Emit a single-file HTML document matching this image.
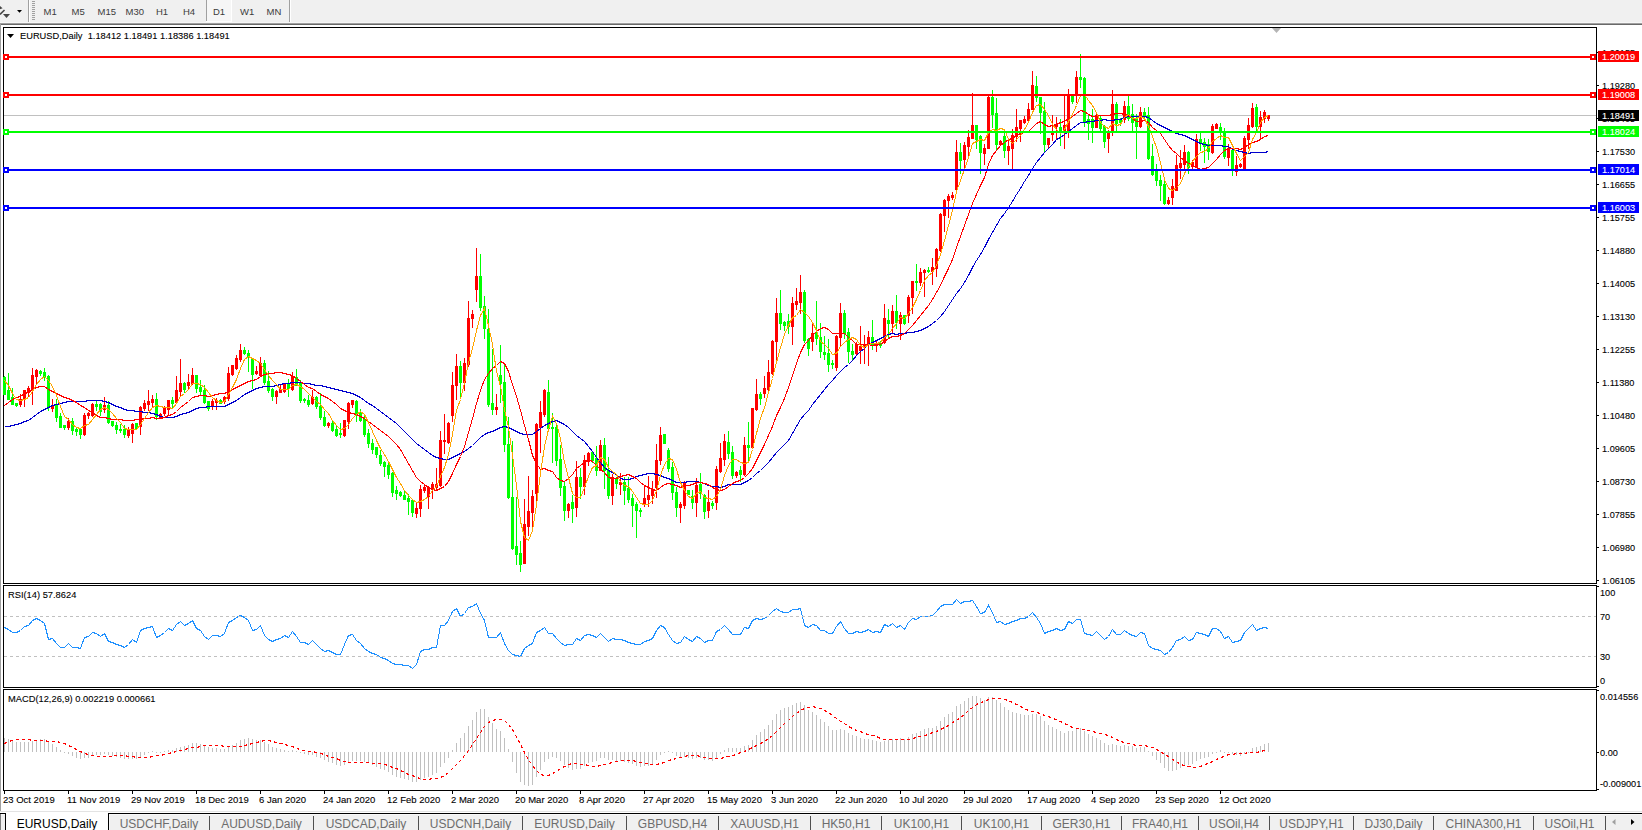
<!DOCTYPE html>
<html><head><meta charset="utf-8">
<style>
html,body{margin:0;padding:0;}
body{width:1642px;height:830px;position:relative;overflow:hidden;background:#fff;font-family:"Liberation Sans",sans-serif;}
svg{position:absolute;left:0;top:0;}
.t{position:absolute;font-size:9.5px;line-height:12px;white-space:nowrap;color:#000;transform-origin:0 0;-webkit-text-stroke:0.1px currentColor;}
.p{transform:scaleX(0.965);}
.w{color:#fff;}
.tt{color:#3c3c3c;-webkit-text-stroke:0;}
.tab{position:absolute;top:816px;height:16px;font-size:12px;line-height:16px;color:#6d6d6d;text-align:center;white-space:nowrap;}
</style></head><body>
<svg width="1642" height="830" viewBox="0 0 1642 830">
<rect x="0" y="0" width="1642" height="22" fill="#f0f0f0"/>
<rect x="0" y="22" width="1642" height="1" fill="#f7f7f7"/>
<rect x="0" y="23" width="1642" height="1" fill="#a0a0a0"/>
<rect x="0" y="24" width="1642" height="1" fill="#696969"/>
<path d="M0,14.5 L4.5,10" stroke="#454545" stroke-width="1.6" fill="none"/>
<path d="M0,6 L2.6,8.3 L0,9.2 Z" fill="#454545"/>
<path d="M3,14 L10,14 L6.5,18 Z" fill="#454545"/>
<path d="M17,10 L22,10 L19.5,12.8 Z" fill="#000"/>
<rect x="28" y="0" width="1" height="22" fill="#a0a0a0"/>
<rect x="29" y="0" width="1" height="22" fill="#fff"/>
<rect x="289" y="0" width="1" height="22" fill="#a0a0a0"/>
<rect x="290" y="0" width="1" height="22" fill="#fff"/>
<rect x="206" y="0" width="26" height="21" fill="#f6f6f6"/>
<rect x="206" y="0" width="1" height="21" fill="#a0a0a0"/>
<rect x="206" y="21" width="26" height="1" fill="#fff"/>
<rect x="231" y="0" width="1" height="22" fill="#fff"/>
<rect x="32" y="1" width="3" height="1" fill="#a0a0a0"/>
<rect x="32" y="3" width="3" height="1" fill="#a0a0a0"/>
<rect x="32" y="5" width="3" height="1" fill="#a0a0a0"/>
<rect x="32" y="7" width="3" height="1" fill="#a0a0a0"/>
<rect x="32" y="9" width="3" height="1" fill="#a0a0a0"/>
<rect x="32" y="11" width="3" height="1" fill="#a0a0a0"/>
<rect x="32" y="13" width="3" height="1" fill="#a0a0a0"/>
<rect x="32" y="15" width="3" height="1" fill="#a0a0a0"/>
<rect x="32" y="17" width="3" height="1" fill="#a0a0a0"/>
<rect x="32" y="19" width="3" height="1" fill="#a0a0a0"/>
<rect x="0" y="24" width="1" height="787" fill="#a0a0a0"/>
<rect x="3.5" y="27.5" width="1593" height="556" fill="none" stroke="#000"/>
<rect x="3.5" y="585.5" width="1593" height="102" fill="none" stroke="#000"/>
<rect x="3.5" y="689.5" width="1593" height="101" fill="none" stroke="#000"/>
<polygon points="1272,28 1281,28 1276.5,33" fill="#b4b4b4"/>
<path d="M7,34 L14,34 L10.5,38 Z" fill="#000"/>
<rect x="4" y="115" width="1592" height="1" fill="#c0c0c0"/>
<g shape-rendering="crispEdges"><rect x="4" y="376" width="1" height="19" fill="#00ff00"/>
<rect x="3" y="377" width="3" height="18" fill="#00ff00"/>
<rect x="8" y="373" width="1" height="27" fill="#00ff00"/>
<rect x="7" y="390" width="3" height="10" fill="#00ff00"/>
<rect x="12" y="388" width="1" height="17" fill="#00ff00"/>
<rect x="11" y="397" width="3" height="8" fill="#00ff00"/>
<rect x="16" y="403" width="1" height="4" fill="#00ff00"/>
<rect x="15" y="403" width="3" height="3" fill="#00ff00"/>
<rect x="20" y="394" width="1" height="13" fill="#ff0000"/>
<rect x="19" y="399" width="3" height="6" fill="#ff0000"/>
<rect x="24" y="390" width="1" height="17" fill="#ff0000"/>
<rect x="23" y="390" width="3" height="10" fill="#ff0000"/>
<rect x="28" y="386" width="1" height="11" fill="#ff0000"/>
<rect x="27" y="388" width="3" height="5" fill="#ff0000"/>
<rect x="32" y="368" width="1" height="37" fill="#ff0000"/>
<rect x="31" y="375" width="3" height="15" fill="#ff0000"/>
<rect x="36" y="369" width="1" height="16" fill="#ff0000"/>
<rect x="35" y="370" width="3" height="7" fill="#ff0000"/>
<rect x="40" y="370" width="1" height="6" fill="#00ff00"/>
<rect x="39" y="371" width="3" height="3" fill="#00ff00"/>
<rect x="44" y="368" width="1" height="13" fill="#00ff00"/>
<rect x="43" y="372" width="3" height="6" fill="#00ff00"/>
<rect x="48" y="375" width="1" height="36" fill="#00ff00"/>
<rect x="47" y="376" width="3" height="32" fill="#00ff00"/>
<rect x="52" y="399" width="1" height="13" fill="#ff0000"/>
<rect x="51" y="405" width="3" height="4" fill="#ff0000"/>
<rect x="56" y="399" width="1" height="23" fill="#00ff00"/>
<rect x="55" y="405" width="3" height="13" fill="#00ff00"/>
<rect x="60" y="413" width="1" height="15" fill="#00ff00"/>
<rect x="59" y="416" width="3" height="12" fill="#00ff00"/>
<rect x="64" y="425" width="1" height="5" fill="#00ff00"/>
<rect x="63" y="425" width="3" height="3" fill="#00ff00"/>
<rect x="68" y="418" width="1" height="12" fill="#ff0000"/>
<rect x="67" y="421" width="3" height="7" fill="#ff0000"/>
<rect x="72" y="418" width="1" height="17" fill="#00ff00"/>
<rect x="71" y="421" width="3" height="10" fill="#00ff00"/>
<rect x="76" y="427" width="1" height="9" fill="#00ff00"/>
<rect x="75" y="429" width="3" height="3" fill="#00ff00"/>
<rect x="80" y="429" width="1" height="10" fill="#00ff00"/>
<rect x="79" y="429" width="3" height="6" fill="#00ff00"/>
<rect x="84" y="413" width="1" height="23" fill="#ff0000"/>
<rect x="83" y="415" width="3" height="20" fill="#ff0000"/>
<rect x="88" y="412" width="1" height="7" fill="#ff0000"/>
<rect x="87" y="413" width="3" height="3" fill="#ff0000"/>
<rect x="92" y="403" width="1" height="14" fill="#ff0000"/>
<rect x="91" y="404" width="3" height="12" fill="#ff0000"/>
<rect x="96" y="401" width="1" height="10" fill="#00ff00"/>
<rect x="95" y="404" width="3" height="3" fill="#00ff00"/>
<rect x="100" y="403" width="1" height="13" fill="#00ff00"/>
<rect x="99" y="404" width="3" height="8" fill="#00ff00"/>
<rect x="104" y="397" width="1" height="16" fill="#ff0000"/>
<rect x="103" y="405" width="3" height="5" fill="#ff0000"/>
<rect x="108" y="401" width="1" height="23" fill="#00ff00"/>
<rect x="107" y="405" width="3" height="18" fill="#00ff00"/>
<rect x="112" y="421" width="1" height="6" fill="#00ff00"/>
<rect x="111" y="421" width="3" height="5" fill="#00ff00"/>
<rect x="116" y="422" width="1" height="12" fill="#00ff00"/>
<rect x="115" y="425" width="3" height="5" fill="#00ff00"/>
<rect x="120" y="424" width="1" height="9" fill="#00ff00"/>
<rect x="119" y="429" width="3" height="2" fill="#00ff00"/>
<rect x="124" y="425" width="1" height="13" fill="#00ff00"/>
<rect x="123" y="429" width="3" height="6" fill="#00ff00"/>
<rect x="128" y="427" width="1" height="11" fill="#ff0000"/>
<rect x="127" y="430" width="3" height="6" fill="#ff0000"/>
<rect x="132" y="423" width="1" height="20" fill="#ff0000"/>
<rect x="131" y="424" width="3" height="10" fill="#ff0000"/>
<rect x="136" y="423" width="1" height="6" fill="#00ff00"/>
<rect x="135" y="423" width="3" height="6" fill="#00ff00"/>
<rect x="140" y="406" width="1" height="29" fill="#ff0000"/>
<rect x="139" y="407" width="3" height="20" fill="#ff0000"/>
<rect x="144" y="400" width="1" height="11" fill="#ff0000"/>
<rect x="143" y="403" width="3" height="6" fill="#ff0000"/>
<rect x="148" y="390" width="1" height="21" fill="#ff0000"/>
<rect x="147" y="401" width="3" height="4" fill="#ff0000"/>
<rect x="152" y="395" width="1" height="12" fill="#ff0000"/>
<rect x="151" y="399" width="3" height="4" fill="#ff0000"/>
<rect x="156" y="393" width="1" height="27" fill="#00ff00"/>
<rect x="155" y="399" width="3" height="18" fill="#00ff00"/>
<rect x="160" y="413" width="1" height="5" fill="#ff0000"/>
<rect x="159" y="414" width="3" height="4" fill="#ff0000"/>
<rect x="164" y="406" width="1" height="10" fill="#ff0000"/>
<rect x="163" y="408" width="3" height="6" fill="#ff0000"/>
<rect x="168" y="400" width="1" height="15" fill="#ff0000"/>
<rect x="167" y="400" width="3" height="10" fill="#ff0000"/>
<rect x="172" y="397" width="1" height="12" fill="#00ff00"/>
<rect x="171" y="400" width="3" height="4" fill="#00ff00"/>
<rect x="176" y="376" width="1" height="28" fill="#ff0000"/>
<rect x="175" y="390" width="3" height="13" fill="#ff0000"/>
<rect x="180" y="359" width="1" height="38" fill="#ff0000"/>
<rect x="179" y="383" width="3" height="9" fill="#ff0000"/>
<rect x="184" y="382" width="1" height="11" fill="#00ff00"/>
<rect x="183" y="383" width="3" height="7" fill="#00ff00"/>
<rect x="188" y="374" width="1" height="15" fill="#ff0000"/>
<rect x="187" y="382" width="3" height="4" fill="#ff0000"/>
<rect x="192" y="368" width="1" height="17" fill="#ff0000"/>
<rect x="191" y="375" width="3" height="9" fill="#ff0000"/>
<rect x="196" y="375" width="1" height="18" fill="#00ff00"/>
<rect x="195" y="375" width="3" height="14" fill="#00ff00"/>
<rect x="200" y="380" width="1" height="15" fill="#00ff00"/>
<rect x="199" y="387" width="3" height="5" fill="#00ff00"/>
<rect x="204" y="385" width="1" height="19" fill="#00ff00"/>
<rect x="203" y="390" width="3" height="13" fill="#00ff00"/>
<rect x="208" y="401" width="1" height="10" fill="#00ff00"/>
<rect x="207" y="401" width="3" height="8" fill="#00ff00"/>
<rect x="212" y="399" width="1" height="11" fill="#ff0000"/>
<rect x="211" y="401" width="3" height="5" fill="#ff0000"/>
<rect x="216" y="398" width="1" height="12" fill="#ff0000"/>
<rect x="215" y="400" width="3" height="3" fill="#ff0000"/>
<rect x="220" y="399" width="1" height="5" fill="#00ff00"/>
<rect x="219" y="400" width="3" height="4" fill="#00ff00"/>
<rect x="224" y="396" width="1" height="8" fill="#ff0000"/>
<rect x="223" y="397" width="3" height="5" fill="#ff0000"/>
<rect x="228" y="367" width="1" height="34" fill="#ff0000"/>
<rect x="227" y="373" width="3" height="26" fill="#ff0000"/>
<rect x="232" y="365" width="1" height="11" fill="#ff0000"/>
<rect x="231" y="365" width="3" height="10" fill="#ff0000"/>
<rect x="236" y="355" width="1" height="15" fill="#ff0000"/>
<rect x="235" y="358" width="3" height="11" fill="#ff0000"/>
<rect x="240" y="344" width="1" height="18" fill="#ff0000"/>
<rect x="239" y="350" width="3" height="10" fill="#ff0000"/>
<rect x="244" y="347" width="1" height="8" fill="#00ff00"/>
<rect x="243" y="350" width="3" height="4" fill="#00ff00"/>
<rect x="248" y="350" width="1" height="22" fill="#00ff00"/>
<rect x="247" y="353" width="3" height="5" fill="#00ff00"/>
<rect x="252" y="358" width="1" height="31" fill="#00ff00"/>
<rect x="251" y="358" width="3" height="17" fill="#00ff00"/>
<rect x="256" y="366" width="1" height="9" fill="#ff0000"/>
<rect x="255" y="371" width="3" height="3" fill="#ff0000"/>
<rect x="260" y="357" width="1" height="20" fill="#ff0000"/>
<rect x="259" y="363" width="3" height="13" fill="#ff0000"/>
<rect x="264" y="360" width="1" height="25" fill="#00ff00"/>
<rect x="263" y="363" width="3" height="20" fill="#00ff00"/>
<rect x="268" y="371" width="1" height="22" fill="#00ff00"/>
<rect x="267" y="381" width="3" height="10" fill="#00ff00"/>
<rect x="272" y="388" width="1" height="13" fill="#00ff00"/>
<rect x="271" y="389" width="3" height="8" fill="#00ff00"/>
<rect x="276" y="390" width="1" height="14" fill="#ff0000"/>
<rect x="275" y="391" width="3" height="6" fill="#ff0000"/>
<rect x="280" y="385" width="1" height="8" fill="#ff0000"/>
<rect x="279" y="389" width="3" height="4" fill="#ff0000"/>
<rect x="284" y="383" width="1" height="10" fill="#ff0000"/>
<rect x="283" y="384" width="3" height="8" fill="#ff0000"/>
<rect x="288" y="379" width="1" height="18" fill="#00ff00"/>
<rect x="287" y="383" width="3" height="6" fill="#00ff00"/>
<rect x="292" y="372" width="1" height="19" fill="#ff0000"/>
<rect x="291" y="376" width="3" height="14" fill="#ff0000"/>
<rect x="296" y="369" width="1" height="17" fill="#00ff00"/>
<rect x="295" y="377" width="3" height="9" fill="#00ff00"/>
<rect x="300" y="380" width="1" height="23" fill="#00ff00"/>
<rect x="299" y="382" width="3" height="19" fill="#00ff00"/>
<rect x="304" y="398" width="1" height="5" fill="#00ff00"/>
<rect x="303" y="399" width="3" height="2" fill="#00ff00"/>
<rect x="308" y="395" width="1" height="12" fill="#00ff00"/>
<rect x="307" y="400" width="3" height="5" fill="#00ff00"/>
<rect x="312" y="390" width="1" height="15" fill="#ff0000"/>
<rect x="311" y="397" width="3" height="7" fill="#ff0000"/>
<rect x="316" y="396" width="1" height="13" fill="#00ff00"/>
<rect x="315" y="397" width="3" height="10" fill="#00ff00"/>
<rect x="320" y="393" width="1" height="27" fill="#00ff00"/>
<rect x="319" y="406" width="3" height="12" fill="#00ff00"/>
<rect x="324" y="411" width="1" height="16" fill="#00ff00"/>
<rect x="323" y="417" width="3" height="9" fill="#00ff00"/>
<rect x="328" y="422" width="1" height="6" fill="#ff0000"/>
<rect x="327" y="423" width="3" height="3" fill="#ff0000"/>
<rect x="332" y="421" width="1" height="11" fill="#00ff00"/>
<rect x="331" y="423" width="3" height="8" fill="#00ff00"/>
<rect x="336" y="426" width="1" height="11" fill="#00ff00"/>
<rect x="335" y="429" width="3" height="7" fill="#00ff00"/>
<rect x="340" y="423" width="1" height="15" fill="#00ff00"/>
<rect x="339" y="433" width="3" height="2" fill="#00ff00"/>
<rect x="344" y="420" width="1" height="17" fill="#ff0000"/>
<rect x="343" y="420" width="3" height="16" fill="#ff0000"/>
<rect x="348" y="402" width="1" height="27" fill="#ff0000"/>
<rect x="347" y="403" width="3" height="19" fill="#ff0000"/>
<rect x="352" y="400" width="1" height="8" fill="#ff0000"/>
<rect x="351" y="400" width="3" height="5" fill="#ff0000"/>
<rect x="356" y="400" width="1" height="22" fill="#00ff00"/>
<rect x="355" y="401" width="3" height="14" fill="#00ff00"/>
<rect x="360" y="409" width="1" height="13" fill="#00ff00"/>
<rect x="359" y="413" width="3" height="8" fill="#00ff00"/>
<rect x="364" y="416" width="1" height="21" fill="#00ff00"/>
<rect x="363" y="419" width="3" height="16" fill="#00ff00"/>
<rect x="368" y="429" width="1" height="19" fill="#00ff00"/>
<rect x="367" y="433" width="3" height="11" fill="#00ff00"/>
<rect x="372" y="439" width="1" height="15" fill="#00ff00"/>
<rect x="371" y="443" width="3" height="7" fill="#00ff00"/>
<rect x="376" y="447" width="1" height="11" fill="#00ff00"/>
<rect x="375" y="447" width="3" height="8" fill="#00ff00"/>
<rect x="380" y="450" width="1" height="16" fill="#00ff00"/>
<rect x="379" y="455" width="3" height="9" fill="#00ff00"/>
<rect x="384" y="461" width="1" height="16" fill="#00ff00"/>
<rect x="383" y="462" width="3" height="5" fill="#00ff00"/>
<rect x="388" y="461" width="1" height="18" fill="#00ff00"/>
<rect x="387" y="465" width="3" height="10" fill="#00ff00"/>
<rect x="392" y="472" width="1" height="25" fill="#00ff00"/>
<rect x="391" y="473" width="3" height="20" fill="#00ff00"/>
<rect x="396" y="486" width="1" height="14" fill="#00ff00"/>
<rect x="395" y="490" width="3" height="4" fill="#00ff00"/>
<rect x="400" y="491" width="1" height="6" fill="#00ff00"/>
<rect x="399" y="492" width="3" height="4" fill="#00ff00"/>
<rect x="404" y="490" width="1" height="10" fill="#00ff00"/>
<rect x="403" y="495" width="3" height="5" fill="#00ff00"/>
<rect x="408" y="494" width="1" height="21" fill="#00ff00"/>
<rect x="407" y="498" width="3" height="4" fill="#00ff00"/>
<rect x="412" y="499" width="1" height="18" fill="#00ff00"/>
<rect x="411" y="500" width="3" height="13" fill="#00ff00"/>
<rect x="416" y="502" width="1" height="16" fill="#ff0000"/>
<rect x="415" y="508" width="3" height="6" fill="#ff0000"/>
<rect x="420" y="485" width="1" height="32" fill="#ff0000"/>
<rect x="419" y="489" width="3" height="20" fill="#ff0000"/>
<rect x="424" y="485" width="1" height="8" fill="#ff0000"/>
<rect x="423" y="487" width="3" height="4" fill="#ff0000"/>
<rect x="428" y="486" width="1" height="23" fill="#ff0000"/>
<rect x="427" y="487" width="3" height="10" fill="#ff0000"/>
<rect x="432" y="482" width="1" height="17" fill="#ff0000"/>
<rect x="431" y="484" width="3" height="6" fill="#ff0000"/>
<rect x="436" y="468" width="1" height="22" fill="#ff0000"/>
<rect x="435" y="484" width="3" height="4" fill="#ff0000"/>
<rect x="440" y="431" width="1" height="56" fill="#ff0000"/>
<rect x="439" y="440" width="3" height="46" fill="#ff0000"/>
<rect x="444" y="414" width="1" height="40" fill="#ff0000"/>
<rect x="443" y="440" width="3" height="2" fill="#ff0000"/>
<rect x="448" y="422" width="1" height="22" fill="#ff0000"/>
<rect x="447" y="423" width="3" height="20" fill="#ff0000"/>
<rect x="452" y="372" width="1" height="50" fill="#ff0000"/>
<rect x="451" y="385" width="3" height="31" fill="#ff0000"/>
<rect x="456" y="354" width="1" height="46" fill="#ff0000"/>
<rect x="455" y="366" width="3" height="20" fill="#ff0000"/>
<rect x="460" y="361" width="1" height="38" fill="#00ff00"/>
<rect x="459" y="366" width="3" height="17" fill="#00ff00"/>
<rect x="464" y="358" width="1" height="33" fill="#ff0000"/>
<rect x="463" y="363" width="3" height="20" fill="#ff0000"/>
<rect x="468" y="301" width="1" height="66" fill="#ff0000"/>
<rect x="467" y="318" width="3" height="47" fill="#ff0000"/>
<rect x="472" y="310" width="1" height="18" fill="#ff0000"/>
<rect x="471" y="314" width="3" height="5" fill="#ff0000"/>
<rect x="476" y="248" width="1" height="54" fill="#ff0000"/>
<rect x="475" y="276" width="3" height="14" fill="#ff0000"/>
<rect x="480" y="254" width="1" height="57" fill="#00ff00"/>
<rect x="479" y="276" width="3" height="32" fill="#00ff00"/>
<rect x="484" y="296" width="1" height="43" fill="#00ff00"/>
<rect x="483" y="306" width="3" height="23" fill="#00ff00"/>
<rect x="488" y="309" width="1" height="98" fill="#00ff00"/>
<rect x="487" y="329" width="3" height="76" fill="#00ff00"/>
<rect x="492" y="349" width="1" height="66" fill="#00ff00"/>
<rect x="491" y="403" width="3" height="7" fill="#00ff00"/>
<rect x="496" y="394" width="1" height="21" fill="#ff0000"/>
<rect x="495" y="407" width="3" height="3" fill="#ff0000"/>
<rect x="500" y="345" width="1" height="58" fill="#00ff00"/>
<rect x="499" y="375" width="3" height="9" fill="#00ff00"/>
<rect x="504" y="365" width="1" height="87" fill="#00ff00"/>
<rect x="503" y="382" width="3" height="63" fill="#00ff00"/>
<rect x="508" y="417" width="1" height="82" fill="#00ff00"/>
<rect x="507" y="444" width="3" height="54" fill="#00ff00"/>
<rect x="512" y="441" width="1" height="109" fill="#00ff00"/>
<rect x="511" y="497" width="3" height="52" fill="#00ff00"/>
<rect x="516" y="497" width="1" height="68" fill="#00ff00"/>
<rect x="515" y="546" width="3" height="9" fill="#00ff00"/>
<rect x="520" y="541" width="1" height="31" fill="#00ff00"/>
<rect x="519" y="553" width="3" height="12" fill="#00ff00"/>
<rect x="524" y="499" width="1" height="65" fill="#ff0000"/>
<rect x="523" y="524" width="3" height="40" fill="#ff0000"/>
<rect x="528" y="476" width="1" height="60" fill="#ff0000"/>
<rect x="527" y="511" width="3" height="16" fill="#ff0000"/>
<rect x="532" y="490" width="1" height="38" fill="#ff0000"/>
<rect x="531" y="496" width="3" height="17" fill="#ff0000"/>
<rect x="536" y="423" width="1" height="78" fill="#ff0000"/>
<rect x="535" y="424" width="3" height="70" fill="#ff0000"/>
<rect x="540" y="401" width="1" height="52" fill="#ff0000"/>
<rect x="539" y="412" width="3" height="16" fill="#ff0000"/>
<rect x="544" y="389" width="1" height="28" fill="#ff0000"/>
<rect x="543" y="390" width="3" height="25" fill="#ff0000"/>
<rect x="548" y="380" width="1" height="49" fill="#00ff00"/>
<rect x="547" y="392" width="3" height="37" fill="#00ff00"/>
<rect x="552" y="413" width="1" height="50" fill="#00ff00"/>
<rect x="551" y="427" width="3" height="2" fill="#00ff00"/>
<rect x="556" y="424" width="1" height="42" fill="#00ff00"/>
<rect x="555" y="427" width="3" height="34" fill="#00ff00"/>
<rect x="560" y="445" width="1" height="51" fill="#00ff00"/>
<rect x="559" y="459" width="3" height="29" fill="#00ff00"/>
<rect x="564" y="482" width="1" height="39" fill="#00ff00"/>
<rect x="563" y="486" width="3" height="25" fill="#00ff00"/>
<rect x="568" y="503" width="1" height="15" fill="#ff0000"/>
<rect x="567" y="504" width="3" height="7" fill="#ff0000"/>
<rect x="572" y="495" width="1" height="28" fill="#00ff00"/>
<rect x="571" y="502" width="3" height="7" fill="#00ff00"/>
<rect x="576" y="461" width="1" height="56" fill="#ff0000"/>
<rect x="575" y="477" width="3" height="31" fill="#ff0000"/>
<rect x="580" y="468" width="1" height="31" fill="#00ff00"/>
<rect x="579" y="477" width="3" height="10" fill="#00ff00"/>
<rect x="584" y="455" width="1" height="40" fill="#ff0000"/>
<rect x="583" y="460" width="3" height="27" fill="#ff0000"/>
<rect x="588" y="452" width="1" height="14" fill="#ff0000"/>
<rect x="587" y="453" width="3" height="9" fill="#ff0000"/>
<rect x="592" y="452" width="1" height="11" fill="#00ff00"/>
<rect x="591" y="452" width="3" height="9" fill="#00ff00"/>
<rect x="596" y="446" width="1" height="30" fill="#00ff00"/>
<rect x="595" y="458" width="3" height="13" fill="#00ff00"/>
<rect x="600" y="440" width="1" height="31" fill="#ff0000"/>
<rect x="599" y="445" width="3" height="26" fill="#ff0000"/>
<rect x="604" y="438" width="1" height="51" fill="#00ff00"/>
<rect x="603" y="445" width="3" height="26" fill="#00ff00"/>
<rect x="608" y="457" width="1" height="42" fill="#00ff00"/>
<rect x="607" y="470" width="3" height="26" fill="#00ff00"/>
<rect x="612" y="474" width="1" height="31" fill="#ff0000"/>
<rect x="611" y="477" width="3" height="19" fill="#ff0000"/>
<rect x="616" y="477" width="1" height="12" fill="#00ff00"/>
<rect x="615" y="479" width="3" height="5" fill="#00ff00"/>
<rect x="620" y="473" width="1" height="22" fill="#ff0000"/>
<rect x="619" y="482" width="3" height="3" fill="#ff0000"/>
<rect x="624" y="477" width="1" height="28" fill="#00ff00"/>
<rect x="623" y="482" width="3" height="9" fill="#00ff00"/>
<rect x="628" y="477" width="1" height="26" fill="#00ff00"/>
<rect x="627" y="488" width="3" height="12" fill="#00ff00"/>
<rect x="632" y="494" width="1" height="33" fill="#00ff00"/>
<rect x="631" y="498" width="3" height="8" fill="#00ff00"/>
<rect x="636" y="502" width="1" height="36" fill="#00ff00"/>
<rect x="635" y="504" width="3" height="7" fill="#00ff00"/>
<rect x="640" y="508" width="1" height="9" fill="#00ff00"/>
<rect x="639" y="510" width="3" height="2" fill="#00ff00"/>
<rect x="644" y="486" width="1" height="21" fill="#ff0000"/>
<rect x="643" y="498" width="3" height="6" fill="#ff0000"/>
<rect x="648" y="476" width="1" height="31" fill="#ff0000"/>
<rect x="647" y="495" width="3" height="5" fill="#ff0000"/>
<rect x="652" y="481" width="1" height="23" fill="#ff0000"/>
<rect x="651" y="489" width="3" height="7" fill="#ff0000"/>
<rect x="656" y="444" width="1" height="54" fill="#ff0000"/>
<rect x="655" y="460" width="3" height="28" fill="#ff0000"/>
<rect x="660" y="427" width="1" height="38" fill="#ff0000"/>
<rect x="659" y="435" width="3" height="26" fill="#ff0000"/>
<rect x="664" y="434" width="1" height="10" fill="#00ff00"/>
<rect x="663" y="434" width="3" height="10" fill="#00ff00"/>
<rect x="668" y="448" width="1" height="24" fill="#00ff00"/>
<rect x="667" y="450" width="3" height="19" fill="#00ff00"/>
<rect x="672" y="462" width="1" height="38" fill="#00ff00"/>
<rect x="671" y="467" width="3" height="26" fill="#00ff00"/>
<rect x="676" y="487" width="1" height="30" fill="#00ff00"/>
<rect x="675" y="492" width="3" height="16" fill="#00ff00"/>
<rect x="680" y="502" width="1" height="21" fill="#ff0000"/>
<rect x="679" y="504" width="3" height="4" fill="#ff0000"/>
<rect x="684" y="481" width="1" height="28" fill="#ff0000"/>
<rect x="683" y="482" width="3" height="24" fill="#ff0000"/>
<rect x="688" y="490" width="1" height="5" fill="#00ff00"/>
<rect x="687" y="490" width="3" height="5" fill="#00ff00"/>
<rect x="692" y="490" width="1" height="19" fill="#00ff00"/>
<rect x="691" y="496" width="3" height="7" fill="#00ff00"/>
<rect x="696" y="478" width="1" height="39" fill="#ff0000"/>
<rect x="695" y="485" width="3" height="18" fill="#ff0000"/>
<rect x="700" y="473" width="1" height="26" fill="#00ff00"/>
<rect x="699" y="484" width="3" height="10" fill="#00ff00"/>
<rect x="704" y="494" width="1" height="25" fill="#00ff00"/>
<rect x="703" y="495" width="3" height="17" fill="#00ff00"/>
<rect x="708" y="490" width="1" height="28" fill="#ff0000"/>
<rect x="707" y="502" width="3" height="9" fill="#ff0000"/>
<rect x="712" y="501" width="1" height="8" fill="#00ff00"/>
<rect x="711" y="503" width="3" height="3" fill="#00ff00"/>
<rect x="716" y="466" width="1" height="44" fill="#ff0000"/>
<rect x="715" y="469" width="3" height="34" fill="#ff0000"/>
<rect x="720" y="443" width="1" height="30" fill="#ff0000"/>
<rect x="719" y="458" width="3" height="14" fill="#ff0000"/>
<rect x="724" y="434" width="1" height="32" fill="#ff0000"/>
<rect x="723" y="441" width="3" height="19" fill="#ff0000"/>
<rect x="728" y="431" width="1" height="28" fill="#00ff00"/>
<rect x="727" y="442" width="3" height="12" fill="#00ff00"/>
<rect x="732" y="446" width="1" height="33" fill="#00ff00"/>
<rect x="731" y="452" width="3" height="24" fill="#00ff00"/>
<rect x="736" y="471" width="1" height="7" fill="#ff0000"/>
<rect x="735" y="472" width="3" height="4" fill="#ff0000"/>
<rect x="740" y="466" width="1" height="16" fill="#00ff00"/>
<rect x="739" y="470" width="3" height="5" fill="#00ff00"/>
<rect x="744" y="437" width="1" height="39" fill="#ff0000"/>
<rect x="743" y="445" width="3" height="30" fill="#ff0000"/>
<rect x="748" y="422" width="1" height="39" fill="#00ff00"/>
<rect x="747" y="445" width="3" height="3" fill="#00ff00"/>
<rect x="752" y="408" width="1" height="40" fill="#ff0000"/>
<rect x="751" y="408" width="3" height="40" fill="#ff0000"/>
<rect x="756" y="379" width="1" height="32" fill="#ff0000"/>
<rect x="755" y="394" width="3" height="16" fill="#ff0000"/>
<rect x="760" y="392" width="1" height="13" fill="#00ff00"/>
<rect x="759" y="394" width="3" height="5" fill="#00ff00"/>
<rect x="764" y="376" width="1" height="22" fill="#ff0000"/>
<rect x="763" y="388" width="3" height="6" fill="#ff0000"/>
<rect x="768" y="360" width="1" height="31" fill="#ff0000"/>
<rect x="767" y="372" width="3" height="18" fill="#ff0000"/>
<rect x="772" y="340" width="1" height="35" fill="#ff0000"/>
<rect x="771" y="341" width="3" height="33" fill="#ff0000"/>
<rect x="776" y="298" width="1" height="63" fill="#ff0000"/>
<rect x="775" y="313" width="3" height="29" fill="#ff0000"/>
<rect x="780" y="290" width="1" height="40" fill="#00ff00"/>
<rect x="779" y="313" width="3" height="11" fill="#00ff00"/>
<rect x="784" y="321" width="1" height="10" fill="#00ff00"/>
<rect x="783" y="322" width="3" height="4" fill="#00ff00"/>
<rect x="788" y="314" width="1" height="20" fill="#00ff00"/>
<rect x="787" y="321" width="3" height="6" fill="#00ff00"/>
<rect x="792" y="297" width="1" height="48" fill="#ff0000"/>
<rect x="791" y="303" width="3" height="24" fill="#ff0000"/>
<rect x="796" y="288" width="1" height="22" fill="#ff0000"/>
<rect x="795" y="301" width="3" height="4" fill="#ff0000"/>
<rect x="800" y="275" width="1" height="39" fill="#ff0000"/>
<rect x="799" y="292" width="3" height="11" fill="#ff0000"/>
<rect x="804" y="290" width="1" height="53" fill="#00ff00"/>
<rect x="803" y="292" width="3" height="49" fill="#00ff00"/>
<rect x="808" y="338" width="1" height="18" fill="#00ff00"/>
<rect x="807" y="339" width="3" height="10" fill="#00ff00"/>
<rect x="812" y="324" width="1" height="27" fill="#ff0000"/>
<rect x="811" y="333" width="3" height="9" fill="#ff0000"/>
<rect x="816" y="301" width="1" height="44" fill="#00ff00"/>
<rect x="815" y="332" width="3" height="7" fill="#00ff00"/>
<rect x="820" y="323" width="1" height="35" fill="#00ff00"/>
<rect x="819" y="337" width="3" height="15" fill="#00ff00"/>
<rect x="824" y="336" width="1" height="24" fill="#00ff00"/>
<rect x="823" y="352" width="3" height="3" fill="#00ff00"/>
<rect x="828" y="339" width="1" height="33" fill="#00ff00"/>
<rect x="827" y="353" width="3" height="12" fill="#00ff00"/>
<rect x="832" y="360" width="1" height="9" fill="#00ff00"/>
<rect x="831" y="363" width="3" height="2" fill="#00ff00"/>
<rect x="836" y="335" width="1" height="36" fill="#ff0000"/>
<rect x="835" y="336" width="3" height="32" fill="#ff0000"/>
<rect x="840" y="303" width="1" height="44" fill="#ff0000"/>
<rect x="839" y="313" width="3" height="25" fill="#ff0000"/>
<rect x="844" y="310" width="1" height="29" fill="#00ff00"/>
<rect x="843" y="313" width="3" height="21" fill="#00ff00"/>
<rect x="848" y="328" width="1" height="35" fill="#00ff00"/>
<rect x="847" y="332" width="3" height="20" fill="#00ff00"/>
<rect x="852" y="344" width="1" height="16" fill="#00ff00"/>
<rect x="851" y="351" width="3" height="4" fill="#00ff00"/>
<rect x="856" y="342" width="1" height="14" fill="#ff0000"/>
<rect x="855" y="344" width="3" height="10" fill="#ff0000"/>
<rect x="860" y="326" width="1" height="38" fill="#ff0000"/>
<rect x="859" y="346" width="3" height="5" fill="#ff0000"/>
<rect x="864" y="335" width="1" height="29" fill="#ff0000"/>
<rect x="863" y="344" width="3" height="3" fill="#ff0000"/>
<rect x="868" y="331" width="1" height="35" fill="#ff0000"/>
<rect x="867" y="337" width="3" height="8" fill="#ff0000"/>
<rect x="872" y="320" width="1" height="30" fill="#00ff00"/>
<rect x="871" y="337" width="3" height="9" fill="#00ff00"/>
<rect x="876" y="341" width="1" height="11" fill="#ff0000"/>
<rect x="875" y="343" width="3" height="3" fill="#ff0000"/>
<rect x="880" y="341" width="1" height="7" fill="#00ff00"/>
<rect x="879" y="343" width="3" height="3" fill="#00ff00"/>
<rect x="884" y="304" width="1" height="40" fill="#ff0000"/>
<rect x="883" y="318" width="3" height="25" fill="#ff0000"/>
<rect x="888" y="309" width="1" height="29" fill="#00ff00"/>
<rect x="887" y="320" width="3" height="4" fill="#00ff00"/>
<rect x="892" y="305" width="1" height="28" fill="#ff0000"/>
<rect x="891" y="311" width="3" height="13" fill="#ff0000"/>
<rect x="896" y="295" width="1" height="34" fill="#00ff00"/>
<rect x="895" y="311" width="3" height="12" fill="#00ff00"/>
<rect x="900" y="312" width="1" height="28" fill="#ff0000"/>
<rect x="899" y="315" width="3" height="9" fill="#ff0000"/>
<rect x="904" y="315" width="1" height="10" fill="#00ff00"/>
<rect x="903" y="315" width="3" height="9" fill="#00ff00"/>
<rect x="908" y="295" width="1" height="28" fill="#ff0000"/>
<rect x="907" y="297" width="3" height="19" fill="#ff0000"/>
<rect x="912" y="281" width="1" height="33" fill="#ff0000"/>
<rect x="911" y="281" width="3" height="17" fill="#ff0000"/>
<rect x="916" y="264" width="1" height="27" fill="#00ff00"/>
<rect x="915" y="281" width="3" height="2" fill="#00ff00"/>
<rect x="920" y="268" width="1" height="18" fill="#ff0000"/>
<rect x="919" y="272" width="3" height="11" fill="#ff0000"/>
<rect x="924" y="269" width="1" height="28" fill="#ff0000"/>
<rect x="923" y="270" width="3" height="3" fill="#ff0000"/>
<rect x="928" y="267" width="1" height="6" fill="#00ff00"/>
<rect x="927" y="270" width="3" height="2" fill="#00ff00"/>
<rect x="932" y="258" width="1" height="27" fill="#ff0000"/>
<rect x="931" y="267" width="3" height="5" fill="#ff0000"/>
<rect x="936" y="248" width="1" height="29" fill="#ff0000"/>
<rect x="935" y="249" width="3" height="20" fill="#ff0000"/>
<rect x="940" y="213" width="1" height="39" fill="#ff0000"/>
<rect x="939" y="214" width="3" height="37" fill="#ff0000"/>
<rect x="944" y="199" width="1" height="33" fill="#ff0000"/>
<rect x="943" y="200" width="3" height="16" fill="#ff0000"/>
<rect x="948" y="194" width="1" height="24" fill="#ff0000"/>
<rect x="947" y="196" width="3" height="5" fill="#ff0000"/>
<rect x="952" y="192" width="1" height="8" fill="#ff0000"/>
<rect x="951" y="195" width="3" height="3" fill="#ff0000"/>
<rect x="956" y="140" width="1" height="51" fill="#ff0000"/>
<rect x="955" y="152" width="3" height="38" fill="#ff0000"/>
<rect x="960" y="143" width="1" height="31" fill="#00ff00"/>
<rect x="959" y="152" width="3" height="9" fill="#00ff00"/>
<rect x="964" y="142" width="1" height="27" fill="#ff0000"/>
<rect x="963" y="145" width="3" height="15" fill="#ff0000"/>
<rect x="968" y="130" width="1" height="28" fill="#ff0000"/>
<rect x="967" y="137" width="3" height="10" fill="#ff0000"/>
<rect x="972" y="93" width="1" height="46" fill="#ff0000"/>
<rect x="971" y="125" width="3" height="14" fill="#ff0000"/>
<rect x="976" y="125" width="1" height="24" fill="#00ff00"/>
<rect x="975" y="125" width="3" height="15" fill="#00ff00"/>
<rect x="980" y="135" width="1" height="39" fill="#00ff00"/>
<rect x="979" y="136" width="3" height="17" fill="#00ff00"/>
<rect x="984" y="144" width="1" height="21" fill="#ff0000"/>
<rect x="983" y="148" width="3" height="6" fill="#ff0000"/>
<rect x="988" y="96" width="1" height="53" fill="#ff0000"/>
<rect x="987" y="97" width="3" height="52" fill="#ff0000"/>
<rect x="992" y="90" width="1" height="38" fill="#00ff00"/>
<rect x="991" y="97" width="3" height="18" fill="#00ff00"/>
<rect x="996" y="98" width="1" height="52" fill="#00ff00"/>
<rect x="995" y="113" width="3" height="32" fill="#00ff00"/>
<rect x="1000" y="140" width="1" height="6" fill="#ff0000"/>
<rect x="999" y="141" width="3" height="4" fill="#ff0000"/>
<rect x="1004" y="132" width="1" height="26" fill="#00ff00"/>
<rect x="1003" y="136" width="3" height="15" fill="#00ff00"/>
<rect x="1008" y="140" width="1" height="25" fill="#ff0000"/>
<rect x="1007" y="146" width="3" height="5" fill="#ff0000"/>
<rect x="1012" y="129" width="1" height="40" fill="#ff0000"/>
<rect x="1011" y="135" width="3" height="14" fill="#ff0000"/>
<rect x="1016" y="109" width="1" height="33" fill="#ff0000"/>
<rect x="1015" y="127" width="3" height="10" fill="#ff0000"/>
<rect x="1020" y="120" width="1" height="22" fill="#ff0000"/>
<rect x="1019" y="120" width="3" height="9" fill="#ff0000"/>
<rect x="1024" y="116" width="1" height="8" fill="#ff0000"/>
<rect x="1023" y="119" width="3" height="4" fill="#ff0000"/>
<rect x="1028" y="103" width="1" height="18" fill="#ff0000"/>
<rect x="1027" y="109" width="3" height="12" fill="#ff0000"/>
<rect x="1032" y="71" width="1" height="39" fill="#ff0000"/>
<rect x="1031" y="85" width="3" height="25" fill="#ff0000"/>
<rect x="1036" y="76" width="1" height="26" fill="#00ff00"/>
<rect x="1035" y="86" width="3" height="12" fill="#00ff00"/>
<rect x="1040" y="97" width="1" height="37" fill="#00ff00"/>
<rect x="1039" y="97" width="3" height="16" fill="#00ff00"/>
<rect x="1044" y="102" width="1" height="50" fill="#00ff00"/>
<rect x="1043" y="111" width="3" height="34" fill="#00ff00"/>
<rect x="1048" y="138" width="1" height="11" fill="#ff0000"/>
<rect x="1047" y="138" width="3" height="7" fill="#ff0000"/>
<rect x="1052" y="115" width="1" height="26" fill="#ff0000"/>
<rect x="1051" y="132" width="3" height="3" fill="#ff0000"/>
<rect x="1056" y="117" width="1" height="23" fill="#ff0000"/>
<rect x="1055" y="124" width="3" height="3" fill="#ff0000"/>
<rect x="1060" y="119" width="1" height="27" fill="#00ff00"/>
<rect x="1059" y="127" width="3" height="4" fill="#00ff00"/>
<rect x="1064" y="96" width="1" height="53" fill="#ff0000"/>
<rect x="1063" y="125" width="3" height="6" fill="#ff0000"/>
<rect x="1068" y="89" width="1" height="49" fill="#ff0000"/>
<rect x="1067" y="95" width="3" height="37" fill="#ff0000"/>
<rect x="1072" y="96" width="1" height="8" fill="#00ff00"/>
<rect x="1071" y="96" width="3" height="6" fill="#00ff00"/>
<rect x="1076" y="71" width="1" height="32" fill="#ff0000"/>
<rect x="1075" y="77" width="3" height="18" fill="#ff0000"/>
<rect x="1080" y="54" width="1" height="34" fill="#00ff00"/>
<rect x="1079" y="77" width="3" height="3" fill="#00ff00"/>
<rect x="1084" y="77" width="1" height="50" fill="#00ff00"/>
<rect x="1083" y="78" width="3" height="44" fill="#00ff00"/>
<rect x="1088" y="114" width="1" height="26" fill="#00ff00"/>
<rect x="1087" y="119" width="3" height="5" fill="#00ff00"/>
<rect x="1092" y="109" width="1" height="34" fill="#00ff00"/>
<rect x="1091" y="119" width="3" height="9" fill="#00ff00"/>
<rect x="1096" y="114" width="1" height="14" fill="#ff0000"/>
<rect x="1095" y="115" width="3" height="13" fill="#ff0000"/>
<rect x="1100" y="116" width="1" height="15" fill="#00ff00"/>
<rect x="1099" y="118" width="3" height="11" fill="#00ff00"/>
<rect x="1104" y="125" width="1" height="23" fill="#00ff00"/>
<rect x="1103" y="126" width="3" height="16" fill="#00ff00"/>
<rect x="1108" y="130" width="1" height="23" fill="#ff0000"/>
<rect x="1107" y="131" width="3" height="8" fill="#ff0000"/>
<rect x="1112" y="90" width="1" height="46" fill="#ff0000"/>
<rect x="1111" y="104" width="3" height="28" fill="#ff0000"/>
<rect x="1116" y="102" width="1" height="30" fill="#00ff00"/>
<rect x="1115" y="104" width="3" height="20" fill="#00ff00"/>
<rect x="1120" y="118" width="1" height="8" fill="#00ff00"/>
<rect x="1119" y="120" width="3" height="3" fill="#00ff00"/>
<rect x="1124" y="101" width="1" height="22" fill="#ff0000"/>
<rect x="1123" y="106" width="3" height="14" fill="#ff0000"/>
<rect x="1128" y="96" width="1" height="25" fill="#00ff00"/>
<rect x="1127" y="106" width="3" height="13" fill="#00ff00"/>
<rect x="1132" y="104" width="1" height="28" fill="#00ff00"/>
<rect x="1131" y="114" width="3" height="9" fill="#00ff00"/>
<rect x="1136" y="114" width="1" height="45" fill="#00ff00"/>
<rect x="1135" y="118" width="3" height="9" fill="#00ff00"/>
<rect x="1140" y="107" width="1" height="21" fill="#ff0000"/>
<rect x="1139" y="112" width="3" height="15" fill="#ff0000"/>
<rect x="1144" y="108" width="1" height="11" fill="#00ff00"/>
<rect x="1143" y="112" width="3" height="4" fill="#00ff00"/>
<rect x="1148" y="107" width="1" height="53" fill="#00ff00"/>
<rect x="1147" y="115" width="3" height="44" fill="#00ff00"/>
<rect x="1152" y="144" width="1" height="32" fill="#00ff00"/>
<rect x="1151" y="156" width="3" height="19" fill="#00ff00"/>
<rect x="1156" y="164" width="1" height="22" fill="#00ff00"/>
<rect x="1155" y="171" width="3" height="10" fill="#00ff00"/>
<rect x="1160" y="175" width="1" height="26" fill="#00ff00"/>
<rect x="1159" y="180" width="3" height="6" fill="#00ff00"/>
<rect x="1164" y="180" width="1" height="25" fill="#00ff00"/>
<rect x="1163" y="184" width="3" height="20" fill="#00ff00"/>
<rect x="1168" y="197" width="1" height="8" fill="#ff0000"/>
<rect x="1167" y="200" width="3" height="4" fill="#ff0000"/>
<rect x="1172" y="179" width="1" height="26" fill="#ff0000"/>
<rect x="1171" y="186" width="3" height="12" fill="#ff0000"/>
<rect x="1176" y="155" width="1" height="36" fill="#ff0000"/>
<rect x="1175" y="165" width="3" height="26" fill="#ff0000"/>
<rect x="1180" y="150" width="1" height="29" fill="#ff0000"/>
<rect x="1179" y="163" width="3" height="5" fill="#ff0000"/>
<rect x="1184" y="145" width="1" height="25" fill="#ff0000"/>
<rect x="1183" y="152" width="3" height="13" fill="#ff0000"/>
<rect x="1188" y="151" width="1" height="23" fill="#00ff00"/>
<rect x="1187" y="152" width="3" height="16" fill="#00ff00"/>
<rect x="1192" y="160" width="1" height="9" fill="#ff0000"/>
<rect x="1191" y="162" width="3" height="5" fill="#ff0000"/>
<rect x="1196" y="134" width="1" height="34" fill="#ff0000"/>
<rect x="1195" y="139" width="3" height="28" fill="#ff0000"/>
<rect x="1200" y="133" width="1" height="18" fill="#00ff00"/>
<rect x="1199" y="139" width="3" height="5" fill="#00ff00"/>
<rect x="1204" y="138" width="1" height="25" fill="#00ff00"/>
<rect x="1203" y="142" width="3" height="5" fill="#00ff00"/>
<rect x="1208" y="139" width="1" height="21" fill="#00ff00"/>
<rect x="1207" y="144" width="3" height="8" fill="#00ff00"/>
<rect x="1212" y="124" width="1" height="30" fill="#ff0000"/>
<rect x="1211" y="126" width="3" height="27" fill="#ff0000"/>
<rect x="1216" y="123" width="1" height="6" fill="#ff0000"/>
<rect x="1215" y="124" width="3" height="5" fill="#ff0000"/>
<rect x="1220" y="123" width="1" height="17" fill="#00ff00"/>
<rect x="1219" y="127" width="3" height="6" fill="#00ff00"/>
<rect x="1224" y="128" width="1" height="31" fill="#00ff00"/>
<rect x="1223" y="132" width="3" height="25" fill="#00ff00"/>
<rect x="1228" y="144" width="1" height="22" fill="#ff0000"/>
<rect x="1227" y="148" width="3" height="10" fill="#ff0000"/>
<rect x="1232" y="149" width="1" height="27" fill="#00ff00"/>
<rect x="1231" y="150" width="3" height="20" fill="#00ff00"/>
<rect x="1236" y="156" width="1" height="20" fill="#ff0000"/>
<rect x="1235" y="165" width="3" height="7" fill="#ff0000"/>
<rect x="1240" y="163" width="1" height="5" fill="#ff0000"/>
<rect x="1239" y="164" width="3" height="3" fill="#ff0000"/>
<rect x="1244" y="136" width="1" height="34" fill="#ff0000"/>
<rect x="1243" y="138" width="3" height="31" fill="#ff0000"/>
<rect x="1248" y="118" width="1" height="31" fill="#ff0000"/>
<rect x="1247" y="125" width="3" height="15" fill="#ff0000"/>
<rect x="1252" y="103" width="1" height="25" fill="#ff0000"/>
<rect x="1251" y="108" width="3" height="19" fill="#ff0000"/>
<rect x="1256" y="104" width="1" height="27" fill="#00ff00"/>
<rect x="1255" y="107" width="3" height="20" fill="#00ff00"/>
<rect x="1260" y="111" width="1" height="29" fill="#ff0000"/>
<rect x="1259" y="117" width="3" height="10" fill="#ff0000"/>
<rect x="1264" y="110" width="1" height="13" fill="#ff0000"/>
<rect x="1263" y="112" width="3" height="7" fill="#ff0000"/>
<rect x="1268" y="115" width="1" height="6" fill="#ff0000"/>
<rect x="1267" y="115" width="3" height="4" fill="#ff0000"/></g>
<g shape-rendering="crispEdges"><polyline points="4.5,426.5 8.5,426.5 12.5,425.5 16.5,424.5 20.5,423.5 24.5,421.5 28.5,420.5 32.5,417.5 36.5,414.5 40.5,411.5 44.5,409.5 48.5,407.5 52.5,405.5 56.5,404.5 60.5,403.5 64.5,402.5 68.5,401.5 72.5,401.5 76.5,401.5 80.5,401.5 84.5,401.5 88.5,400.5 92.5,400.5 96.5,400.5 100.5,400.5 104.5,401.5 108.5,402.5 112.5,404.5 116.5,406.5 120.5,407.5 124.5,409.5 128.5,410.5 132.5,410.5 136.5,411.5 140.5,411.5 144.5,412.5 148.5,412.5 152.5,413.5 156.5,414.5 160.5,416.5 164.5,417.5 168.5,417.5 172.5,417.5 176.5,416.5 180.5,414.5 184.5,413.5 188.5,412.5 192.5,410.5 196.5,408.5 200.5,407.5 204.5,407.5 208.5,406.5 212.5,406.5 216.5,406.5 220.5,406.5 224.5,406.5 228.5,404.5 232.5,402.5 236.5,400.5 240.5,397.5 244.5,394.5 248.5,392.5 252.5,390.5 256.5,388.5 260.5,387.5 264.5,386.5 268.5,386.5 272.5,386.5 276.5,385.5 280.5,384.5 284.5,383.5 288.5,383.5 292.5,382.5 296.5,382.5 300.5,382.5 304.5,383.5 308.5,383.5 312.5,384.5 316.5,385.5 320.5,385.5 324.5,386.5 328.5,387.5 332.5,388.5 336.5,389.5 340.5,390.5 344.5,391.5 348.5,392.5 352.5,393.5 356.5,395.5 360.5,397.5 364.5,400.5 368.5,403.5 372.5,405.5 376.5,408.5 380.5,411.5 384.5,414.5 388.5,417.5 392.5,420.5 396.5,423.5 400.5,427.5 404.5,431.5 408.5,435.5 412.5,439.5 416.5,443.5 420.5,446.5 424.5,449.5 428.5,452.5 432.5,455.5 436.5,457.5 440.5,458.5 444.5,459.5 448.5,459.5 452.5,457.5 456.5,455.5 460.5,453.5 464.5,451.5 468.5,448.5 472.5,445.5 476.5,441.5 480.5,437.5 484.5,434.5 488.5,432.5 492.5,431.5 496.5,429.5 500.5,427.5 504.5,426.5 508.5,427.5 512.5,429.5 516.5,431.5 520.5,433.5 524.5,434.5 528.5,434.5 532.5,434.5 536.5,431.5 540.5,428.5 544.5,425.5 548.5,423.5 552.5,421.5 556.5,420.5 560.5,422.5 564.5,424.5 568.5,427.5 572.5,431.5 576.5,435.5 580.5,438.5 584.5,441.5 588.5,446.5 592.5,451.5 596.5,457.5 600.5,462.5 604.5,467.5 608.5,470.5 612.5,472.5 616.5,474.5 620.5,478.5 624.5,479.5 628.5,479.5 632.5,478.5 636.5,476.5 640.5,475.5 644.5,474.5 648.5,473.5 652.5,473.5 656.5,474.5 660.5,475.5 664.5,477.5 668.5,478.5 672.5,480.5 676.5,482.5 680.5,482.5 684.5,482.5 688.5,481.5 692.5,481.5 696.5,481.5 700.5,482.5 704.5,483.5 708.5,485.5 712.5,486.5 716.5,486.5 720.5,487.5 724.5,486.5 728.5,484.5 732.5,484.5 736.5,484.5 740.5,484.5 744.5,482.5 748.5,480.5 752.5,477.5 756.5,473.5 760.5,470.5 764.5,466.5 768.5,462.5 772.5,457.5 776.5,452.5 780.5,448.5 784.5,444.5 788.5,440.5 792.5,433.5 796.5,426.5 800.5,419.5 804.5,414.5 808.5,410.5 812.5,404.5 816.5,399.5 820.5,394.5 824.5,389.5 828.5,384.5 832.5,380.5 836.5,375.5 840.5,371.5 844.5,367.5 848.5,364.5 852.5,360.5 856.5,355.5 860.5,351.5 864.5,348.5 868.5,344.5 872.5,342.5 876.5,340.5 880.5,338.5 884.5,336.5 888.5,334.5 892.5,333.5 896.5,334.5 900.5,333.5 904.5,333.5 908.5,332.5 912.5,332.5 916.5,331.5 920.5,330.5 924.5,328.5 928.5,326.5 932.5,323.5 936.5,320.5 940.5,316.5 944.5,311.5 948.5,305.5 952.5,299.5 956.5,293.5 960.5,288.5 964.5,282.5 968.5,275.5 972.5,267.5 976.5,260.5 980.5,254.5 984.5,247.5 988.5,239.5 992.5,232.5 996.5,225.5 1000.5,218.5 1004.5,213.5 1008.5,207.5 1012.5,201.5 1016.5,194.5 1020.5,188.5 1024.5,181.5 1028.5,175.5 1032.5,168.5 1036.5,162.5 1040.5,157.5 1044.5,152.5 1048.5,148.5 1052.5,144.5 1056.5,139.5 1060.5,137.5 1064.5,134.5 1068.5,131.5 1072.5,128.5 1076.5,125.5 1080.5,122.5 1084.5,122.5 1088.5,121.5 1092.5,121.5 1096.5,120.5 1100.5,120.5 1104.5,119.5 1108.5,120.5 1112.5,120.5 1116.5,119.5 1120.5,119.5 1124.5,117.5 1128.5,116.5 1132.5,116.5 1136.5,116.5 1140.5,116.5 1144.5,116.5 1148.5,117.5 1152.5,120.5 1156.5,123.5 1160.5,125.5 1164.5,127.5 1168.5,129.5 1172.5,131.5 1176.5,133.5 1180.5,134.5 1184.5,135.5 1188.5,137.5 1192.5,139.5 1196.5,141.5 1200.5,143.5 1204.5,144.5 1208.5,145.5 1212.5,145.5 1216.5,145.5 1220.5,145.5 1224.5,146.5 1228.5,146.5 1232.5,149.5 1236.5,150.5 1240.5,151.5 1244.5,152.5 1248.5,153.5 1252.5,152.5 1256.5,152.5 1260.5,152.5 1264.5,152.5 1268.5,151.5" fill="none" stroke="#0000cd" stroke-width="1" /><polyline points="4.5,405.5 8.5,402.5 12.5,399.5 16.5,397.5 20.5,396.5 24.5,393.5 28.5,392.5 32.5,389.5 36.5,387.5 40.5,386.5 44.5,386.5 48.5,389.5 52.5,391.5 56.5,393.5 60.5,395.5 64.5,397.5 68.5,398.5 72.5,400.5 76.5,402.5 80.5,405.5 84.5,407.5 88.5,410.5 92.5,412.5 96.5,415.5 100.5,417.5 104.5,417.5 108.5,418.5 112.5,419.5 116.5,419.5 120.5,419.5 124.5,420.5 128.5,420.5 132.5,420.5 136.5,419.5 140.5,419.5 144.5,418.5 148.5,418.5 152.5,417.5 156.5,418.5 160.5,418.5 164.5,417.5 168.5,415.5 172.5,414.5 176.5,411.5 180.5,407.5 184.5,404.5 188.5,401.5 192.5,397.5 196.5,396.5 200.5,395.5 204.5,395.5 208.5,396.5 212.5,395.5 216.5,394.5 220.5,393.5 224.5,393.5 228.5,391.5 232.5,389.5 236.5,387.5 240.5,385.5 244.5,383.5 248.5,381.5 252.5,380.5 256.5,379.5 260.5,376.5 264.5,374.5 268.5,373.5 272.5,373.5 276.5,372.5 280.5,372.5 284.5,373.5 288.5,374.5 292.5,375.5 296.5,378.5 300.5,381.5 304.5,384.5 308.5,387.5 312.5,388.5 316.5,391.5 320.5,394.5 324.5,396.5 328.5,398.5 332.5,401.5 336.5,404.5 340.5,408.5 344.5,410.5 348.5,412.5 352.5,413.5 356.5,414.5 360.5,416.5 364.5,418.5 368.5,421.5 372.5,424.5 376.5,427.5 380.5,430.5 384.5,433.5 388.5,436.5 392.5,440.5 396.5,444.5 400.5,449.5 404.5,456.5 408.5,463.5 412.5,470.5 416.5,477.5 420.5,481.5 424.5,484.5 428.5,487.5 432.5,489.5 436.5,490.5 440.5,488.5 444.5,486.5 448.5,481.5 452.5,473.5 456.5,464.5 460.5,456.5 464.5,446.5 468.5,432.5 472.5,418.5 476.5,403.5 480.5,390.5 484.5,379.5 488.5,373.5 492.5,368.5 496.5,365.5 500.5,361.5 504.5,363.5 508.5,371.5 512.5,384.5 516.5,396.5 520.5,410.5 524.5,425.5 528.5,439.5 532.5,455.5 536.5,463.5 540.5,469.5 544.5,468.5 548.5,470.5 552.5,471.5 556.5,477.5 560.5,480.5 564.5,481.5 568.5,478.5 572.5,474.5 576.5,468.5 580.5,465.5 584.5,462.5 588.5,459.5 592.5,461.5 596.5,465.5 600.5,469.5 604.5,472.5 608.5,477.5 612.5,478.5 616.5,478.5 620.5,476.5 624.5,475.5 628.5,474.5 632.5,476.5 636.5,478.5 640.5,482.5 644.5,485.5 648.5,487.5 652.5,489.5 656.5,490.5 660.5,487.5 664.5,484.5 668.5,483.5 672.5,484.5 676.5,485.5 680.5,487.5 684.5,485.5 688.5,485.5 692.5,484.5 696.5,482.5 700.5,482.5 704.5,483.5 708.5,484.5 712.5,487.5 716.5,489.5 720.5,490.5 724.5,489.5 728.5,486.5 732.5,483.5 736.5,481.5 740.5,480.5 744.5,477.5 748.5,473.5 752.5,468.5 756.5,460.5 760.5,452.5 764.5,444.5 768.5,435.5 772.5,426.5 776.5,415.5 780.5,407.5 784.5,398.5 788.5,387.5 792.5,375.5 796.5,363.5 800.5,352.5 804.5,344.5 808.5,340.5 812.5,335.5 816.5,331.5 820.5,328.5 824.5,327.5 828.5,329.5 832.5,333.5 836.5,333.5 840.5,333.5 844.5,333.5 848.5,337.5 852.5,340.5 856.5,344.5 860.5,344.5 864.5,344.5 868.5,344.5 872.5,345.5 876.5,344.5 880.5,344.5 884.5,341.5 888.5,338.5 892.5,336.5 896.5,336.5 900.5,335.5 904.5,333.5 908.5,329.5 912.5,325.5 916.5,320.5 920.5,315.5 924.5,310.5 928.5,305.5 932.5,299.5 936.5,292.5 940.5,285.5 944.5,276.5 948.5,268.5 952.5,259.5 956.5,247.5 960.5,236.5 964.5,225.5 968.5,214.5 972.5,203.5 976.5,194.5 980.5,185.5 984.5,177.5 988.5,164.5 992.5,155.5 996.5,150.5 1000.5,145.5 1004.5,142.5 1008.5,139.5 1012.5,138.5 1016.5,135.5 1020.5,133.5 1024.5,132.5 1028.5,131.5 1032.5,127.5 1036.5,123.5 1040.5,121.5 1044.5,124.5 1048.5,126.5 1052.5,125.5 1056.5,124.5 1060.5,122.5 1064.5,121.5 1068.5,118.5 1072.5,116.5 1076.5,113.5 1080.5,110.5 1084.5,111.5 1088.5,114.5 1092.5,116.5 1096.5,116.5 1100.5,115.5 1104.5,115.5 1108.5,115.5 1112.5,114.5 1116.5,113.5 1120.5,113.5 1124.5,114.5 1128.5,115.5 1132.5,118.5 1136.5,121.5 1140.5,121.5 1144.5,120.5 1148.5,122.5 1152.5,127.5 1156.5,130.5 1160.5,133.5 1164.5,139.5 1168.5,145.5 1172.5,150.5 1176.5,153.5 1180.5,157.5 1184.5,160.5 1188.5,163.5 1192.5,165.5 1196.5,167.5 1200.5,169.5 1204.5,168.5 1208.5,167.5 1212.5,163.5 1216.5,159.5 1220.5,154.5 1224.5,150.5 1228.5,148.5 1232.5,148.5 1236.5,148.5 1240.5,149.5 1244.5,147.5 1248.5,144.5 1252.5,142.5 1256.5,141.5 1260.5,139.5 1264.5,136.5 1268.5,135.5" fill="none" stroke="#ff0000" stroke-width="1" /><polyline points="4.5,380.5 8.5,385.5 12.5,393.5 16.5,399.5 20.5,400.5 24.5,399.5 28.5,397.5 32.5,391.5 36.5,384.5 40.5,379.5 44.5,376.5 48.5,380.5 52.5,386.5 56.5,395.5 60.5,406.5 64.5,416.5 68.5,419.5 72.5,424.5 76.5,427.5 80.5,428.5 84.5,425.5 88.5,424.5 92.5,419.5 96.5,414.5 100.5,409.5 104.5,407.5 108.5,409.5 112.5,413.5 116.5,418.5 120.5,422.5 124.5,428.5 128.5,429.5 132.5,429.5 136.5,429.5 140.5,424.5 144.5,418.5 148.5,412.5 152.5,407.5 156.5,405.5 160.5,406.5 164.5,407.5 168.5,407.5 172.5,408.5 176.5,403.5 180.5,396.5 184.5,393.5 188.5,389.5 192.5,383.5 196.5,383.5 200.5,384.5 204.5,387.5 208.5,392.5 212.5,397.5 216.5,400.5 220.5,402.5 224.5,401.5 228.5,394.5 232.5,387.5 236.5,379.5 240.5,368.5 244.5,359.5 248.5,356.5 252.5,358.5 256.5,360.5 260.5,363.5 264.5,369.5 268.5,375.5 272.5,380.5 276.5,384.5 280.5,389.5 284.5,389.5 288.5,389.5 292.5,385.5 296.5,384.5 300.5,386.5 304.5,389.5 308.5,393.5 312.5,397.5 316.5,401.5 320.5,404.5 324.5,409.5 328.5,413.5 332.5,420.5 336.5,425.5 340.5,429.5 344.5,428.5 348.5,424.5 352.5,418.5 356.5,414.5 360.5,411.5 364.5,414.5 368.5,422.5 372.5,431.5 376.5,440.5 380.5,448.5 384.5,454.5 388.5,461.5 392.5,469.5 396.5,477.5 400.5,483.5 404.5,490.5 408.5,495.5 412.5,499.5 416.5,502.5 420.5,501.5 424.5,499.5 428.5,496.5 432.5,490.5 436.5,486.5 440.5,476.5 444.5,467.5 448.5,454.5 452.5,434.5 456.5,410.5 460.5,399.5 464.5,383.5 468.5,362.5 472.5,348.5 476.5,330.5 480.5,315.5 484.5,308.5 488.5,325.5 492.5,344.5 496.5,371.5 500.5,386.5 504.5,409.5 508.5,427.5 512.5,455.5 516.5,485.5 520.5,521.5 524.5,537.5 528.5,540.5 532.5,530.5 536.5,504.5 540.5,473.5 544.5,446.5 548.5,429.5 552.5,416.5 556.5,423.5 560.5,438.5 564.5,462.5 568.5,477.5 572.5,493.5 576.5,497.5 580.5,497.5 584.5,487.5 588.5,476.5 592.5,467.5 596.5,465.5 600.5,457.5 604.5,459.5 608.5,467.5 612.5,471.5 616.5,474.5 620.5,481.5 624.5,485.5 628.5,486.5 632.5,491.5 636.5,497.5 640.5,503.5 644.5,504.5 648.5,504.5 652.5,500.5 656.5,490.5 660.5,475.5 664.5,464.5 668.5,458.5 672.5,459.5 676.5,469.5 680.5,482.5 684.5,490.5 688.5,496.5 692.5,498.5 696.5,493.5 700.5,491.5 704.5,497.5 708.5,498.5 712.5,499.5 716.5,496.5 720.5,489.5 724.5,475.5 728.5,465.5 732.5,459.5 736.5,459.5 740.5,462.5 744.5,463.5 748.5,462.5 752.5,449.5 756.5,433.5 760.5,418.5 764.5,407.5 768.5,392.5 772.5,378.5 776.5,362.5 780.5,347.5 784.5,334.5 788.5,325.5 792.5,317.5 796.5,315.5 800.5,309.5 804.5,312.5 808.5,316.5 812.5,322.5 816.5,330.5 820.5,341.5 824.5,344.5 828.5,348.5 832.5,354.5 836.5,353.5 840.5,346.5 844.5,342.5 848.5,339.5 852.5,337.5 856.5,339.5 860.5,345.5 864.5,347.5 868.5,344.5 872.5,343.5 876.5,343.5 880.5,342.5 884.5,337.5 888.5,334.5 892.5,328.5 896.5,323.5 900.5,317.5 904.5,318.5 908.5,313.5 912.5,307.5 916.5,299.5 920.5,290.5 924.5,280.5 928.5,275.5 932.5,272.5 936.5,265.5 940.5,254.5 944.5,240.5 948.5,225.5 952.5,210.5 956.5,191.5 960.5,180.5 964.5,169.5 968.5,157.5 972.5,143.5 976.5,141.5 980.5,139.5 984.5,140.5 988.5,132.5 992.5,129.5 996.5,130.5 1000.5,128.5 1004.5,129.5 1008.5,139.5 1012.5,143.5 1016.5,139.5 1020.5,135.5 1024.5,129.5 1028.5,122.5 1032.5,112.5 1036.5,105.5 1040.5,104.5 1044.5,109.5 1048.5,115.5 1052.5,124.5 1056.5,129.5 1060.5,133.5 1064.5,129.5 1068.5,121.5 1072.5,114.5 1076.5,105.5 1080.5,95.5 1084.5,94.5 1088.5,100.5 1092.5,105.5 1096.5,112.5 1100.5,122.5 1104.5,126.5 1108.5,128.5 1112.5,123.5 1116.5,125.5 1120.5,124.5 1124.5,117.5 1128.5,114.5 1132.5,118.5 1136.5,118.5 1140.5,116.5 1144.5,118.5 1148.5,126.5 1152.5,136.5 1156.5,147.5 1160.5,162.5 1164.5,179.5 1168.5,188.5 1172.5,190.5 1176.5,187.5 1180.5,183.5 1184.5,173.5 1188.5,166.5 1192.5,161.5 1196.5,156.5 1200.5,152.5 1204.5,151.5 1208.5,148.5 1212.5,141.5 1216.5,138.5 1220.5,135.5 1224.5,137.5 1228.5,137.5 1232.5,145.5 1236.5,153.5 1240.5,160.5 1244.5,156.5 1248.5,152.5 1252.5,139.5 1256.5,132.5 1260.5,122.5 1264.5,117.5 1268.5,115.5" fill="none" stroke="#ffa500" stroke-width="1" /></g>
<g shape-rendering="crispEdges"><rect x="4" y="56" width="1592" height="2" fill="#ff0000"/>
<rect x="3" y="54" width="6" height="6" fill="#ff0000"/><rect x="5" y="56" width="2" height="2" fill="#fff"/>
<rect x="1590" y="54" width="6" height="6" fill="#ff0000"/><rect x="1592" y="56" width="2" height="2" fill="#fff"/>
<rect x="4" y="94" width="1592" height="2" fill="#ff0000"/>
<rect x="3" y="92" width="6" height="6" fill="#ff0000"/><rect x="5" y="94" width="2" height="2" fill="#fff"/>
<rect x="1590" y="92" width="6" height="6" fill="#ff0000"/><rect x="1592" y="94" width="2" height="2" fill="#fff"/>
<rect x="4" y="131" width="1592" height="2" fill="#00ff00"/>
<rect x="3" y="129" width="6" height="6" fill="#00ff00"/><rect x="5" y="131" width="2" height="2" fill="#fff"/>
<rect x="1590" y="129" width="6" height="6" fill="#00ff00"/><rect x="1592" y="131" width="2" height="2" fill="#fff"/>
<rect x="4" y="169" width="1592" height="2" fill="#0000ff"/>
<rect x="3" y="167" width="6" height="6" fill="#0000ff"/><rect x="5" y="169" width="2" height="2" fill="#fff"/>
<rect x="1590" y="167" width="6" height="6" fill="#0000ff"/><rect x="1592" y="169" width="2" height="2" fill="#fff"/>
<rect x="4" y="207" width="1592" height="2" fill="#0000ff"/>
<rect x="3" y="205" width="6" height="6" fill="#0000ff"/><rect x="5" y="207" width="2" height="2" fill="#fff"/>
<rect x="1590" y="205" width="6" height="6" fill="#0000ff"/><rect x="1592" y="207" width="2" height="2" fill="#fff"/></g>
<g shape-rendering="crispEdges"><polyline points="4.5,627.5 8.5,629.5 12.5,632.5 16.5,632.5 20.5,630.5 24.5,626.5 28.5,625.5 32.5,620.5 36.5,618.5 40.5,620.5 44.5,623.5 48.5,639.5 52.5,638.5 56.5,643.5 60.5,647.5 64.5,647.5 68.5,643.5 72.5,647.5 76.5,647.5 80.5,648.5 84.5,637.5 88.5,636.5 92.5,632.5 96.5,633.5 100.5,636.5 104.5,633.5 108.5,641.5 112.5,642.5 116.5,644.5 120.5,645.5 124.5,647.5 128.5,644.5 132.5,639.5 136.5,642.5 140.5,630.5 144.5,628.5 148.5,627.5 152.5,626.5 156.5,637.5 160.5,635.5 164.5,632.5 168.5,628.5 172.5,630.5 176.5,624.5 180.5,621.5 184.5,625.5 188.5,623.5 192.5,620.5 196.5,628.5 200.5,630.5 204.5,636.5 208.5,639.5 212.5,635.5 216.5,635.5 220.5,636.5 224.5,633.5 228.5,622.5 232.5,620.5 236.5,617.5 240.5,615.5 244.5,617.5 248.5,620.5 252.5,630.5 256.5,629.5 260.5,625.5 264.5,635.5 268.5,639.5 272.5,641.5 276.5,639.5 280.5,638.5 284.5,635.5 288.5,637.5 292.5,631.5 296.5,636.5 300.5,642.5 304.5,642.5 308.5,644.5 312.5,640.5 316.5,644.5 320.5,648.5 324.5,651.5 328.5,650.5 332.5,652.5 336.5,654.5 340.5,654.5 344.5,644.5 348.5,635.5 352.5,634.5 356.5,640.5 360.5,643.5 364.5,648.5 368.5,651.5 372.5,653.5 376.5,654.5 380.5,657.5 384.5,658.5 388.5,660.5 392.5,663.5 396.5,664.5 400.5,664.5 404.5,665.5 408.5,665.5 412.5,668.5 416.5,664.5 420.5,651.5 424.5,649.5 428.5,649.5 432.5,647.5 436.5,647.5 440.5,625.5 444.5,625.5 448.5,620.5 452.5,611.5 456.5,608.5 460.5,616.5 464.5,613.5 468.5,607.5 472.5,606.5 476.5,603.5 480.5,613.5 484.5,620.5 488.5,637.5 492.5,637.5 496.5,637.5 500.5,632.5 504.5,643.5 508.5,650.5 512.5,654.5 516.5,655.5 520.5,656.5 524.5,648.5 528.5,645.5 532.5,643.5 536.5,632.5 540.5,630.5 544.5,627.5 548.5,633.5 552.5,633.5 556.5,638.5 560.5,642.5 564.5,645.5 568.5,644.5 572.5,644.5 576.5,638.5 580.5,640.5 584.5,635.5 588.5,634.5 592.5,635.5 596.5,637.5 600.5,633.5 604.5,637.5 608.5,641.5 612.5,638.5 616.5,639.5 620.5,639.5 624.5,640.5 628.5,642.5 632.5,643.5 636.5,644.5 640.5,644.5 644.5,641.5 648.5,640.5 652.5,638.5 656.5,630.5 660.5,625.5 664.5,627.5 668.5,634.5 672.5,640.5 676.5,643.5 680.5,642.5 684.5,636.5 688.5,639.5 692.5,641.5 696.5,636.5 700.5,638.5 704.5,642.5 708.5,640.5 712.5,640.5 716.5,631.5 720.5,629.5 724.5,625.5 728.5,629.5 732.5,634.5 736.5,634.5 740.5,634.5 744.5,627.5 748.5,628.5 752.5,620.5 756.5,618.5 760.5,619.5 764.5,618.5 768.5,615.5 772.5,611.5 776.5,608.5 780.5,611.5 784.5,612.5 788.5,612.5 792.5,609.5 796.5,609.5 800.5,608.5 804.5,625.5 808.5,627.5 812.5,624.5 816.5,625.5 820.5,630.5 824.5,630.5 828.5,633.5 832.5,633.5 836.5,626.5 840.5,621.5 844.5,628.5 848.5,633.5 852.5,633.5 856.5,631.5 860.5,632.5 864.5,631.5 868.5,629.5 872.5,632.5 876.5,631.5 880.5,632.5 884.5,624.5 888.5,626.5 892.5,623.5 896.5,627.5 900.5,625.5 904.5,629.5 908.5,622.5 912.5,618.5 916.5,619.5 920.5,616.5 924.5,616.5 928.5,616.5 932.5,615.5 936.5,611.5 940.5,606.5 944.5,604.5 948.5,604.5 952.5,604.5 956.5,599.5 960.5,603.5 964.5,601.5 968.5,601.5 972.5,600.5 976.5,606.5 980.5,613.5 984.5,612.5 988.5,605.5 992.5,612.5 996.5,622.5 1000.5,621.5 1004.5,624.5 1008.5,623.5 1012.5,621.5 1016.5,620.5 1020.5,618.5 1024.5,618.5 1028.5,616.5 1032.5,612.5 1036.5,617.5 1040.5,623.5 1044.5,633.5 1048.5,631.5 1052.5,630.5 1056.5,628.5 1060.5,630.5 1064.5,629.5 1068.5,621.5 1072.5,623.5 1076.5,619.5 1080.5,619.5 1084.5,633.5 1088.5,634.5 1092.5,635.5 1096.5,631.5 1100.5,635.5 1104.5,639.5 1108.5,636.5 1112.5,629.5 1116.5,634.5 1120.5,634.5 1124.5,630.5 1128.5,633.5 1132.5,635.5 1136.5,636.5 1140.5,632.5 1144.5,633.5 1148.5,645.5 1152.5,648.5 1156.5,649.5 1160.5,650.5 1164.5,654.5 1168.5,652.5 1172.5,647.5 1176.5,640.5 1180.5,639.5 1184.5,636.5 1188.5,640.5 1192.5,639.5 1196.5,632.5 1200.5,633.5 1204.5,634.5 1208.5,636.5 1212.5,628.5 1216.5,628.5 1220.5,631.5 1224.5,638.5 1228.5,636.5 1232.5,642.5 1236.5,641.5 1240.5,640.5 1244.5,632.5 1248.5,628.5 1252.5,624.5 1256.5,630.5 1260.5,628.5 1264.5,627.5 1268.5,628.5" fill="none" stroke="#1e90ff" stroke-width="1" /></g>
<g shape-rendering="crispEdges"><rect x="4" y="738" width="1" height="14" fill="#c0c0c0"/>
<rect x="8" y="739" width="1" height="13" fill="#c0c0c0"/>
<rect x="12" y="740" width="1" height="12" fill="#c0c0c0"/>
<rect x="16" y="742" width="1" height="10" fill="#c0c0c0"/>
<rect x="20" y="742" width="1" height="10" fill="#c0c0c0"/>
<rect x="24" y="742" width="1" height="10" fill="#c0c0c0"/>
<rect x="28" y="742" width="1" height="10" fill="#c0c0c0"/>
<rect x="32" y="741" width="1" height="11" fill="#c0c0c0"/>
<rect x="36" y="740" width="1" height="12" fill="#c0c0c0"/>
<rect x="40" y="739" width="1" height="13" fill="#c0c0c0"/>
<rect x="44" y="739" width="1" height="13" fill="#c0c0c0"/>
<rect x="48" y="742" width="1" height="10" fill="#c0c0c0"/>
<rect x="52" y="744" width="1" height="8" fill="#c0c0c0"/>
<rect x="56" y="747" width="1" height="5" fill="#c0c0c0"/>
<rect x="60" y="750" width="1" height="2" fill="#c0c0c0"/>
<rect x="64" y="752" width="1" height="1" fill="#c0c0c0"/>
<rect x="68" y="752" width="1" height="2" fill="#c0c0c0"/>
<rect x="72" y="752" width="1" height="4" fill="#c0c0c0"/>
<rect x="76" y="752" width="1" height="6" fill="#c0c0c0"/>
<rect x="80" y="752" width="1" height="7" fill="#c0c0c0"/>
<rect x="84" y="752" width="1" height="6" fill="#c0c0c0"/>
<rect x="88" y="752" width="1" height="6" fill="#c0c0c0"/>
<rect x="92" y="752" width="1" height="4" fill="#c0c0c0"/>
<rect x="96" y="752" width="1" height="3" fill="#c0c0c0"/>
<rect x="100" y="752" width="1" height="3" fill="#c0c0c0"/>
<rect x="104" y="752" width="1" height="2" fill="#c0c0c0"/>
<rect x="108" y="752" width="1" height="3" fill="#c0c0c0"/>
<rect x="112" y="752" width="1" height="4" fill="#c0c0c0"/>
<rect x="116" y="752" width="1" height="5" fill="#c0c0c0"/>
<rect x="120" y="752" width="1" height="6" fill="#c0c0c0"/>
<rect x="124" y="752" width="1" height="7" fill="#c0c0c0"/>
<rect x="128" y="752" width="1" height="7" fill="#c0c0c0"/>
<rect x="132" y="752" width="1" height="7" fill="#c0c0c0"/>
<rect x="136" y="752" width="1" height="7" fill="#c0c0c0"/>
<rect x="140" y="752" width="1" height="5" fill="#c0c0c0"/>
<rect x="144" y="752" width="1" height="3" fill="#c0c0c0"/>
<rect x="148" y="752" width="1" height="1" fill="#c0c0c0"/>
<rect x="152" y="751" width="1" height="1" fill="#c0c0c0"/>
<rect x="156" y="752" width="1" height="1" fill="#c0c0c0"/>
<rect x="160" y="752" width="1" height="1" fill="#c0c0c0"/>
<rect x="164" y="751" width="1" height="1" fill="#c0c0c0"/>
<rect x="168" y="750" width="1" height="2" fill="#c0c0c0"/>
<rect x="172" y="750" width="1" height="2" fill="#c0c0c0"/>
<rect x="176" y="748" width="1" height="4" fill="#c0c0c0"/>
<rect x="180" y="747" width="1" height="5" fill="#c0c0c0"/>
<rect x="184" y="746" width="1" height="6" fill="#c0c0c0"/>
<rect x="188" y="745" width="1" height="7" fill="#c0c0c0"/>
<rect x="192" y="743" width="1" height="9" fill="#c0c0c0"/>
<rect x="196" y="743" width="1" height="9" fill="#c0c0c0"/>
<rect x="200" y="744" width="1" height="8" fill="#c0c0c0"/>
<rect x="204" y="745" width="1" height="7" fill="#c0c0c0"/>
<rect x="208" y="747" width="1" height="5" fill="#c0c0c0"/>
<rect x="212" y="748" width="1" height="4" fill="#c0c0c0"/>
<rect x="216" y="748" width="1" height="4" fill="#c0c0c0"/>
<rect x="220" y="749" width="1" height="3" fill="#c0c0c0"/>
<rect x="224" y="749" width="1" height="3" fill="#c0c0c0"/>
<rect x="228" y="747" width="1" height="5" fill="#c0c0c0"/>
<rect x="232" y="745" width="1" height="7" fill="#c0c0c0"/>
<rect x="236" y="743" width="1" height="9" fill="#c0c0c0"/>
<rect x="240" y="740" width="1" height="12" fill="#c0c0c0"/>
<rect x="244" y="739" width="1" height="13" fill="#c0c0c0"/>
<rect x="248" y="738" width="1" height="14" fill="#c0c0c0"/>
<rect x="252" y="739" width="1" height="13" fill="#c0c0c0"/>
<rect x="256" y="740" width="1" height="12" fill="#c0c0c0"/>
<rect x="260" y="740" width="1" height="12" fill="#c0c0c0"/>
<rect x="264" y="742" width="1" height="10" fill="#c0c0c0"/>
<rect x="268" y="744" width="1" height="8" fill="#c0c0c0"/>
<rect x="272" y="747" width="1" height="5" fill="#c0c0c0"/>
<rect x="276" y="748" width="1" height="4" fill="#c0c0c0"/>
<rect x="280" y="749" width="1" height="3" fill="#c0c0c0"/>
<rect x="284" y="750" width="1" height="2" fill="#c0c0c0"/>
<rect x="288" y="751" width="1" height="1" fill="#c0c0c0"/>
<rect x="292" y="750" width="1" height="2" fill="#c0c0c0"/>
<rect x="296" y="751" width="1" height="1" fill="#c0c0c0"/>
<rect x="300" y="752" width="1" height="1" fill="#c0c0c0"/>
<rect x="304" y="752" width="1" height="2" fill="#c0c0c0"/>
<rect x="308" y="752" width="1" height="3" fill="#c0c0c0"/>
<rect x="312" y="752" width="1" height="3" fill="#c0c0c0"/>
<rect x="316" y="752" width="1" height="5" fill="#c0c0c0"/>
<rect x="320" y="752" width="1" height="6" fill="#c0c0c0"/>
<rect x="324" y="752" width="1" height="8" fill="#c0c0c0"/>
<rect x="328" y="752" width="1" height="10" fill="#c0c0c0"/>
<rect x="332" y="752" width="1" height="11" fill="#c0c0c0"/>
<rect x="336" y="752" width="1" height="13" fill="#c0c0c0"/>
<rect x="340" y="752" width="1" height="14" fill="#c0c0c0"/>
<rect x="344" y="752" width="1" height="13" fill="#c0c0c0"/>
<rect x="348" y="752" width="1" height="11" fill="#c0c0c0"/>
<rect x="352" y="752" width="1" height="9" fill="#c0c0c0"/>
<rect x="356" y="752" width="1" height="9" fill="#c0c0c0"/>
<rect x="360" y="752" width="1" height="9" fill="#c0c0c0"/>
<rect x="364" y="752" width="1" height="10" fill="#c0c0c0"/>
<rect x="368" y="752" width="1" height="11" fill="#c0c0c0"/>
<rect x="372" y="752" width="1" height="13" fill="#c0c0c0"/>
<rect x="376" y="752" width="1" height="15" fill="#c0c0c0"/>
<rect x="380" y="752" width="1" height="17" fill="#c0c0c0"/>
<rect x="384" y="752" width="1" height="18" fill="#c0c0c0"/>
<rect x="388" y="752" width="1" height="20" fill="#c0c0c0"/>
<rect x="392" y="752" width="1" height="23" fill="#c0c0c0"/>
<rect x="396" y="752" width="1" height="25" fill="#c0c0c0"/>
<rect x="400" y="752" width="1" height="26" fill="#c0c0c0"/>
<rect x="404" y="752" width="1" height="27" fill="#c0c0c0"/>
<rect x="408" y="752" width="1" height="28" fill="#c0c0c0"/>
<rect x="412" y="752" width="1" height="30" fill="#c0c0c0"/>
<rect x="416" y="752" width="1" height="30" fill="#c0c0c0"/>
<rect x="420" y="752" width="1" height="28" fill="#c0c0c0"/>
<rect x="424" y="752" width="1" height="26" fill="#c0c0c0"/>
<rect x="428" y="752" width="1" height="25" fill="#c0c0c0"/>
<rect x="432" y="752" width="1" height="23" fill="#c0c0c0"/>
<rect x="436" y="752" width="1" height="21" fill="#c0c0c0"/>
<rect x="440" y="752" width="1" height="15" fill="#c0c0c0"/>
<rect x="444" y="752" width="1" height="11" fill="#c0c0c0"/>
<rect x="448" y="752" width="1" height="6" fill="#c0c0c0"/>
<rect x="452" y="750" width="1" height="2" fill="#c0c0c0"/>
<rect x="456" y="743" width="1" height="9" fill="#c0c0c0"/>
<rect x="460" y="738" width="1" height="14" fill="#c0c0c0"/>
<rect x="464" y="733" width="1" height="19" fill="#c0c0c0"/>
<rect x="468" y="726" width="1" height="26" fill="#c0c0c0"/>
<rect x="472" y="720" width="1" height="32" fill="#c0c0c0"/>
<rect x="476" y="712" width="1" height="40" fill="#c0c0c0"/>
<rect x="480" y="709" width="1" height="43" fill="#c0c0c0"/>
<rect x="484" y="709" width="1" height="43" fill="#c0c0c0"/>
<rect x="488" y="717" width="1" height="35" fill="#c0c0c0"/>
<rect x="492" y="723" width="1" height="29" fill="#c0c0c0"/>
<rect x="496" y="729" width="1" height="23" fill="#c0c0c0"/>
<rect x="500" y="731" width="1" height="21" fill="#c0c0c0"/>
<rect x="504" y="738" width="1" height="14" fill="#c0c0c0"/>
<rect x="508" y="749" width="1" height="3" fill="#c0c0c0"/>
<rect x="512" y="752" width="1" height="10" fill="#c0c0c0"/>
<rect x="516" y="752" width="1" height="21" fill="#c0c0c0"/>
<rect x="520" y="752" width="1" height="30" fill="#c0c0c0"/>
<rect x="524" y="752" width="1" height="33" fill="#c0c0c0"/>
<rect x="528" y="752" width="1" height="34" fill="#c0c0c0"/>
<rect x="532" y="752" width="1" height="33" fill="#c0c0c0"/>
<rect x="536" y="752" width="1" height="25" fill="#c0c0c0"/>
<rect x="540" y="752" width="1" height="18" fill="#c0c0c0"/>
<rect x="544" y="752" width="1" height="10" fill="#c0c0c0"/>
<rect x="548" y="752" width="1" height="7" fill="#c0c0c0"/>
<rect x="552" y="752" width="1" height="5" fill="#c0c0c0"/>
<rect x="556" y="752" width="1" height="6" fill="#c0c0c0"/>
<rect x="560" y="752" width="1" height="9" fill="#c0c0c0"/>
<rect x="564" y="752" width="1" height="13" fill="#c0c0c0"/>
<rect x="568" y="752" width="1" height="16" fill="#c0c0c0"/>
<rect x="572" y="752" width="1" height="18" fill="#c0c0c0"/>
<rect x="576" y="752" width="1" height="17" fill="#c0c0c0"/>
<rect x="580" y="752" width="1" height="17" fill="#c0c0c0"/>
<rect x="584" y="752" width="1" height="14" fill="#c0c0c0"/>
<rect x="588" y="752" width="1" height="11" fill="#c0c0c0"/>
<rect x="592" y="752" width="1" height="10" fill="#c0c0c0"/>
<rect x="596" y="752" width="1" height="9" fill="#c0c0c0"/>
<rect x="600" y="752" width="1" height="6" fill="#c0c0c0"/>
<rect x="604" y="752" width="1" height="6" fill="#c0c0c0"/>
<rect x="608" y="752" width="1" height="8" fill="#c0c0c0"/>
<rect x="612" y="752" width="1" height="8" fill="#c0c0c0"/>
<rect x="616" y="752" width="1" height="9" fill="#c0c0c0"/>
<rect x="620" y="752" width="1" height="9" fill="#c0c0c0"/>
<rect x="624" y="752" width="1" height="10" fill="#c0c0c0"/>
<rect x="628" y="752" width="1" height="11" fill="#c0c0c0"/>
<rect x="632" y="752" width="1" height="12" fill="#c0c0c0"/>
<rect x="636" y="752" width="1" height="14" fill="#c0c0c0"/>
<rect x="640" y="752" width="1" height="15" fill="#c0c0c0"/>
<rect x="644" y="752" width="1" height="14" fill="#c0c0c0"/>
<rect x="648" y="752" width="1" height="14" fill="#c0c0c0"/>
<rect x="652" y="752" width="1" height="12" fill="#c0c0c0"/>
<rect x="656" y="752" width="1" height="8" fill="#c0c0c0"/>
<rect x="660" y="752" width="1" height="3" fill="#c0c0c0"/>
<rect x="664" y="752" width="1" height="1" fill="#c0c0c0"/>
<rect x="668" y="751" width="1" height="1" fill="#c0c0c0"/>
<rect x="672" y="752" width="1" height="1" fill="#c0c0c0"/>
<rect x="676" y="752" width="1" height="4" fill="#c0c0c0"/>
<rect x="680" y="752" width="1" height="6" fill="#c0c0c0"/>
<rect x="684" y="752" width="1" height="5" fill="#c0c0c0"/>
<rect x="688" y="752" width="1" height="6" fill="#c0c0c0"/>
<rect x="692" y="752" width="1" height="7" fill="#c0c0c0"/>
<rect x="696" y="752" width="1" height="6" fill="#c0c0c0"/>
<rect x="700" y="752" width="1" height="6" fill="#c0c0c0"/>
<rect x="704" y="752" width="1" height="8" fill="#c0c0c0"/>
<rect x="708" y="752" width="1" height="8" fill="#c0c0c0"/>
<rect x="712" y="752" width="1" height="9" fill="#c0c0c0"/>
<rect x="716" y="752" width="1" height="6" fill="#c0c0c0"/>
<rect x="720" y="752" width="1" height="2" fill="#c0c0c0"/>
<rect x="724" y="750" width="1" height="2" fill="#c0c0c0"/>
<rect x="728" y="748" width="1" height="4" fill="#c0c0c0"/>
<rect x="732" y="748" width="1" height="4" fill="#c0c0c0"/>
<rect x="736" y="748" width="1" height="4" fill="#c0c0c0"/>
<rect x="740" y="748" width="1" height="4" fill="#c0c0c0"/>
<rect x="744" y="746" width="1" height="6" fill="#c0c0c0"/>
<rect x="748" y="745" width="1" height="7" fill="#c0c0c0"/>
<rect x="752" y="740" width="1" height="12" fill="#c0c0c0"/>
<rect x="756" y="735" width="1" height="17" fill="#c0c0c0"/>
<rect x="760" y="732" width="1" height="20" fill="#c0c0c0"/>
<rect x="764" y="729" width="1" height="23" fill="#c0c0c0"/>
<rect x="768" y="725" width="1" height="27" fill="#c0c0c0"/>
<rect x="772" y="720" width="1" height="32" fill="#c0c0c0"/>
<rect x="776" y="714" width="1" height="38" fill="#c0c0c0"/>
<rect x="780" y="710" width="1" height="42" fill="#c0c0c0"/>
<rect x="784" y="708" width="1" height="44" fill="#c0c0c0"/>
<rect x="788" y="707" width="1" height="45" fill="#c0c0c0"/>
<rect x="792" y="705" width="1" height="47" fill="#c0c0c0"/>
<rect x="796" y="703" width="1" height="49" fill="#c0c0c0"/>
<rect x="800" y="702" width="1" height="50" fill="#c0c0c0"/>
<rect x="804" y="705" width="1" height="47" fill="#c0c0c0"/>
<rect x="808" y="710" width="1" height="42" fill="#c0c0c0"/>
<rect x="812" y="712" width="1" height="40" fill="#c0c0c0"/>
<rect x="816" y="715" width="1" height="37" fill="#c0c0c0"/>
<rect x="820" y="719" width="1" height="33" fill="#c0c0c0"/>
<rect x="824" y="722" width="1" height="30" fill="#c0c0c0"/>
<rect x="828" y="726" width="1" height="26" fill="#c0c0c0"/>
<rect x="832" y="730" width="1" height="22" fill="#c0c0c0"/>
<rect x="836" y="730" width="1" height="22" fill="#c0c0c0"/>
<rect x="840" y="729" width="1" height="23" fill="#c0c0c0"/>
<rect x="844" y="730" width="1" height="22" fill="#c0c0c0"/>
<rect x="848" y="733" width="1" height="19" fill="#c0c0c0"/>
<rect x="852" y="735" width="1" height="17" fill="#c0c0c0"/>
<rect x="856" y="736" width="1" height="16" fill="#c0c0c0"/>
<rect x="860" y="738" width="1" height="14" fill="#c0c0c0"/>
<rect x="864" y="739" width="1" height="13" fill="#c0c0c0"/>
<rect x="868" y="739" width="1" height="13" fill="#c0c0c0"/>
<rect x="872" y="740" width="1" height="12" fill="#c0c0c0"/>
<rect x="876" y="741" width="1" height="11" fill="#c0c0c0"/>
<rect x="880" y="742" width="1" height="10" fill="#c0c0c0"/>
<rect x="884" y="741" width="1" height="11" fill="#c0c0c0"/>
<rect x="888" y="740" width="1" height="12" fill="#c0c0c0"/>
<rect x="892" y="739" width="1" height="13" fill="#c0c0c0"/>
<rect x="896" y="739" width="1" height="13" fill="#c0c0c0"/>
<rect x="900" y="738" width="1" height="14" fill="#c0c0c0"/>
<rect x="904" y="739" width="1" height="13" fill="#c0c0c0"/>
<rect x="908" y="737" width="1" height="15" fill="#c0c0c0"/>
<rect x="912" y="734" width="1" height="18" fill="#c0c0c0"/>
<rect x="916" y="733" width="1" height="19" fill="#c0c0c0"/>
<rect x="920" y="731" width="1" height="21" fill="#c0c0c0"/>
<rect x="924" y="729" width="1" height="23" fill="#c0c0c0"/>
<rect x="928" y="728" width="1" height="24" fill="#c0c0c0"/>
<rect x="932" y="728" width="1" height="24" fill="#c0c0c0"/>
<rect x="936" y="726" width="1" height="26" fill="#c0c0c0"/>
<rect x="940" y="721" width="1" height="31" fill="#c0c0c0"/>
<rect x="944" y="717" width="1" height="35" fill="#c0c0c0"/>
<rect x="948" y="714" width="1" height="38" fill="#c0c0c0"/>
<rect x="952" y="712" width="1" height="40" fill="#c0c0c0"/>
<rect x="956" y="706" width="1" height="46" fill="#c0c0c0"/>
<rect x="960" y="704" width="1" height="48" fill="#c0c0c0"/>
<rect x="964" y="701" width="1" height="51" fill="#c0c0c0"/>
<rect x="968" y="698" width="1" height="54" fill="#c0c0c0"/>
<rect x="972" y="696" width="1" height="56" fill="#c0c0c0"/>
<rect x="976" y="696" width="1" height="56" fill="#c0c0c0"/>
<rect x="980" y="698" width="1" height="54" fill="#c0c0c0"/>
<rect x="984" y="700" width="1" height="52" fill="#c0c0c0"/>
<rect x="988" y="697" width="1" height="55" fill="#c0c0c0"/>
<rect x="992" y="697" width="1" height="55" fill="#c0c0c0"/>
<rect x="996" y="700" width="1" height="52" fill="#c0c0c0"/>
<rect x="1000" y="703" width="1" height="49" fill="#c0c0c0"/>
<rect x="1004" y="707" width="1" height="45" fill="#c0c0c0"/>
<rect x="1008" y="710" width="1" height="42" fill="#c0c0c0"/>
<rect x="1012" y="712" width="1" height="40" fill="#c0c0c0"/>
<rect x="1016" y="713" width="1" height="39" fill="#c0c0c0"/>
<rect x="1020" y="714" width="1" height="38" fill="#c0c0c0"/>
<rect x="1024" y="715" width="1" height="37" fill="#c0c0c0"/>
<rect x="1028" y="715" width="1" height="37" fill="#c0c0c0"/>
<rect x="1032" y="714" width="1" height="38" fill="#c0c0c0"/>
<rect x="1036" y="714" width="1" height="38" fill="#c0c0c0"/>
<rect x="1040" y="716" width="1" height="36" fill="#c0c0c0"/>
<rect x="1044" y="721" width="1" height="31" fill="#c0c0c0"/>
<rect x="1048" y="725" width="1" height="27" fill="#c0c0c0"/>
<rect x="1052" y="727" width="1" height="25" fill="#c0c0c0"/>
<rect x="1056" y="729" width="1" height="23" fill="#c0c0c0"/>
<rect x="1060" y="731" width="1" height="21" fill="#c0c0c0"/>
<rect x="1064" y="733" width="1" height="19" fill="#c0c0c0"/>
<rect x="1068" y="731" width="1" height="21" fill="#c0c0c0"/>
<rect x="1072" y="731" width="1" height="21" fill="#c0c0c0"/>
<rect x="1076" y="729" width="1" height="23" fill="#c0c0c0"/>
<rect x="1080" y="728" width="1" height="24" fill="#c0c0c0"/>
<rect x="1084" y="731" width="1" height="21" fill="#c0c0c0"/>
<rect x="1088" y="734" width="1" height="18" fill="#c0c0c0"/>
<rect x="1092" y="736" width="1" height="16" fill="#c0c0c0"/>
<rect x="1096" y="738" width="1" height="14" fill="#c0c0c0"/>
<rect x="1100" y="740" width="1" height="12" fill="#c0c0c0"/>
<rect x="1104" y="743" width="1" height="9" fill="#c0c0c0"/>
<rect x="1108" y="745" width="1" height="7" fill="#c0c0c0"/>
<rect x="1112" y="744" width="1" height="8" fill="#c0c0c0"/>
<rect x="1116" y="745" width="1" height="7" fill="#c0c0c0"/>
<rect x="1120" y="746" width="1" height="6" fill="#c0c0c0"/>
<rect x="1124" y="745" width="1" height="7" fill="#c0c0c0"/>
<rect x="1128" y="746" width="1" height="6" fill="#c0c0c0"/>
<rect x="1132" y="746" width="1" height="6" fill="#c0c0c0"/>
<rect x="1136" y="748" width="1" height="4" fill="#c0c0c0"/>
<rect x="1140" y="747" width="1" height="5" fill="#c0c0c0"/>
<rect x="1144" y="747" width="1" height="5" fill="#c0c0c0"/>
<rect x="1148" y="751" width="1" height="1" fill="#c0c0c0"/>
<rect x="1152" y="752" width="1" height="4" fill="#c0c0c0"/>
<rect x="1156" y="752" width="1" height="8" fill="#c0c0c0"/>
<rect x="1160" y="752" width="1" height="11" fill="#c0c0c0"/>
<rect x="1164" y="752" width="1" height="16" fill="#c0c0c0"/>
<rect x="1168" y="752" width="1" height="19" fill="#c0c0c0"/>
<rect x="1172" y="752" width="1" height="19" fill="#c0c0c0"/>
<rect x="1176" y="752" width="1" height="18" fill="#c0c0c0"/>
<rect x="1180" y="752" width="1" height="16" fill="#c0c0c0"/>
<rect x="1184" y="752" width="1" height="14" fill="#c0c0c0"/>
<rect x="1188" y="752" width="1" height="13" fill="#c0c0c0"/>
<rect x="1192" y="752" width="1" height="12" fill="#c0c0c0"/>
<rect x="1196" y="752" width="1" height="9" fill="#c0c0c0"/>
<rect x="1200" y="752" width="1" height="7" fill="#c0c0c0"/>
<rect x="1204" y="752" width="1" height="6" fill="#c0c0c0"/>
<rect x="1208" y="752" width="1" height="5" fill="#c0c0c0"/>
<rect x="1212" y="752" width="1" height="2" fill="#c0c0c0"/>
<rect x="1216" y="752" width="1" height="1" fill="#c0c0c0"/>
<rect x="1220" y="750" width="1" height="2" fill="#c0c0c0"/>
<rect x="1224" y="752" width="1" height="1" fill="#c0c0c0"/>
<rect x="1228" y="752" width="1" height="1" fill="#c0c0c0"/>
<rect x="1232" y="752" width="1" height="2" fill="#c0c0c0"/>
<rect x="1236" y="752" width="1" height="3" fill="#c0c0c0"/>
<rect x="1240" y="752" width="1" height="4" fill="#c0c0c0"/>
<rect x="1244" y="752" width="1" height="2" fill="#c0c0c0"/>
<rect x="1248" y="752" width="1" height="1" fill="#c0c0c0"/>
<rect x="1252" y="748" width="1" height="4" fill="#c0c0c0"/>
<rect x="1256" y="747" width="1" height="5" fill="#c0c0c0"/>
<rect x="1260" y="746" width="1" height="6" fill="#c0c0c0"/>
<rect x="1264" y="744" width="1" height="8" fill="#c0c0c0"/>
<rect x="1268" y="743" width="1" height="9" fill="#c0c0c0"/><polyline points="4.5,743.5 8.5,741.5 12.5,740.5 16.5,739.5 20.5,739.5 24.5,739.5 28.5,739.5 32.5,740.5 36.5,740.5 40.5,740.5 44.5,740.5 48.5,741.5 52.5,741.5 56.5,741.5 60.5,742.5 64.5,743.5 68.5,745.5 72.5,747.5 76.5,749.5 80.5,751.5 84.5,753.5 88.5,754.5 92.5,755.5 96.5,756.5 100.5,756.5 104.5,756.5 108.5,756.5 112.5,756.5 116.5,755.5 120.5,755.5 124.5,755.5 128.5,756.5 132.5,756.5 136.5,757.5 140.5,757.5 144.5,757.5 148.5,757.5 152.5,756.5 156.5,755.5 160.5,755.5 164.5,754.5 168.5,753.5 172.5,752.5 176.5,751.5 180.5,750.5 184.5,749.5 188.5,748.5 192.5,747.5 196.5,747.5 200.5,746.5 204.5,745.5 208.5,745.5 212.5,745.5 216.5,745.5 220.5,745.5 224.5,746.5 228.5,746.5 232.5,746.5 236.5,746.5 240.5,746.5 244.5,745.5 248.5,744.5 252.5,743.5 256.5,742.5 260.5,741.5 264.5,740.5 268.5,740.5 272.5,741.5 276.5,742.5 280.5,743.5 284.5,744.5 288.5,745.5 292.5,746.5 296.5,748.5 300.5,749.5 304.5,750.5 308.5,751.5 312.5,751.5 316.5,752.5 320.5,753.5 324.5,754.5 328.5,756.5 332.5,757.5 336.5,758.5 340.5,760.5 344.5,761.5 348.5,762.5 352.5,762.5 356.5,762.5 360.5,762.5 364.5,762.5 368.5,762.5 372.5,763.5 376.5,763.5 380.5,763.5 384.5,764.5 388.5,765.5 392.5,767.5 396.5,768.5 400.5,770.5 404.5,772.5 408.5,774.5 412.5,775.5 416.5,777.5 420.5,778.5 424.5,779.5 428.5,779.5 432.5,778.5 436.5,778.5 440.5,777.5 444.5,775.5 448.5,772.5 452.5,768.5 456.5,764.5 460.5,760.5 464.5,755.5 468.5,750.5 472.5,744.5 476.5,738.5 480.5,732.5 484.5,726.5 488.5,722.5 492.5,720.5 496.5,719.5 500.5,719.5 504.5,720.5 508.5,724.5 512.5,729.5 516.5,736.5 520.5,744.5 524.5,752.5 528.5,759.5 532.5,765.5 536.5,770.5 540.5,774.5 544.5,775.5 548.5,775.5 552.5,773.5 556.5,771.5 560.5,768.5 564.5,766.5 568.5,764.5 572.5,763.5 576.5,763.5 580.5,764.5 584.5,764.5 588.5,765.5 592.5,766.5 596.5,766.5 600.5,765.5 604.5,764.5 608.5,763.5 612.5,762.5 616.5,761.5 620.5,760.5 624.5,760.5 628.5,760.5 632.5,760.5 636.5,761.5 640.5,762.5 644.5,763.5 648.5,763.5 652.5,764.5 656.5,764.5 660.5,763.5 664.5,762.5 668.5,760.5 672.5,759.5 676.5,758.5 680.5,757.5 684.5,756.5 688.5,755.5 692.5,755.5 696.5,755.5 700.5,756.5 704.5,757.5 708.5,758.5 712.5,758.5 716.5,758.5 720.5,758.5 724.5,757.5 728.5,756.5 732.5,755.5 736.5,754.5 740.5,752.5 744.5,751.5 748.5,749.5 752.5,747.5 756.5,745.5 760.5,743.5 764.5,741.5 768.5,738.5 772.5,735.5 776.5,731.5 780.5,727.5 784.5,723.5 788.5,720.5 792.5,716.5 796.5,713.5 800.5,710.5 804.5,708.5 808.5,707.5 812.5,706.5 816.5,707.5 820.5,708.5 824.5,710.5 828.5,712.5 832.5,715.5 836.5,718.5 840.5,721.5 844.5,723.5 848.5,726.5 852.5,728.5 856.5,730.5 860.5,731.5 864.5,733.5 868.5,734.5 872.5,735.5 876.5,736.5 880.5,738.5 884.5,739.5 888.5,739.5 892.5,739.5 896.5,739.5 900.5,739.5 904.5,739.5 908.5,739.5 912.5,738.5 916.5,737.5 920.5,736.5 924.5,735.5 928.5,734.5 932.5,732.5 936.5,731.5 940.5,729.5 944.5,727.5 948.5,725.5 952.5,722.5 956.5,720.5 960.5,717.5 964.5,714.5 968.5,710.5 972.5,707.5 976.5,704.5 980.5,702.5 984.5,701.5 988.5,699.5 992.5,698.5 996.5,698.5 1000.5,698.5 1004.5,699.5 1008.5,700.5 1012.5,702.5 1016.5,704.5 1020.5,706.5 1024.5,708.5 1028.5,710.5 1032.5,711.5 1036.5,712.5 1040.5,713.5 1044.5,715.5 1048.5,716.5 1052.5,718.5 1056.5,719.5 1060.5,721.5 1064.5,723.5 1068.5,725.5 1072.5,727.5 1076.5,728.5 1080.5,729.5 1084.5,729.5 1088.5,730.5 1092.5,731.5 1096.5,732.5 1100.5,733.5 1104.5,734.5 1108.5,735.5 1112.5,737.5 1116.5,739.5 1120.5,741.5 1124.5,742.5 1128.5,743.5 1132.5,744.5 1136.5,745.5 1140.5,745.5 1144.5,745.5 1148.5,746.5 1152.5,747.5 1156.5,749.5 1160.5,751.5 1164.5,754.5 1168.5,756.5 1172.5,759.5 1176.5,761.5 1180.5,764.5 1184.5,765.5 1188.5,766.5 1192.5,767.5 1196.5,767.5 1200.5,766.5 1204.5,764.5 1208.5,763.5 1212.5,761.5 1216.5,759.5 1220.5,757.5 1224.5,756.5 1228.5,754.5 1232.5,754.5 1236.5,753.5 1240.5,753.5 1244.5,753.5 1248.5,752.5 1252.5,752.5 1256.5,752.5 1260.5,751.5 1264.5,750.5 1268.5,749.5" fill="none" stroke="#ff0000" stroke-width="1" stroke-dasharray="3,3"/></g>
<g shape-rendering="crispEdges"><rect x="1597" y="52" width="2" height="1" fill="#000"/>
<rect x="1597" y="85" width="2" height="1" fill="#000"/>
<rect x="1597" y="118" width="2" height="1" fill="#000"/>
<rect x="1597" y="151" width="2" height="1" fill="#000"/>
<rect x="1597" y="184" width="2" height="1" fill="#000"/>
<rect x="1597" y="217" width="2" height="1" fill="#000"/>
<rect x="1597" y="250" width="2" height="1" fill="#000"/>
<rect x="1597" y="283" width="2" height="1" fill="#000"/>
<rect x="1597" y="316" width="2" height="1" fill="#000"/>
<rect x="1597" y="349" width="2" height="1" fill="#000"/>
<rect x="1597" y="382" width="2" height="1" fill="#000"/>
<rect x="1597" y="415" width="2" height="1" fill="#000"/>
<rect x="1597" y="448" width="2" height="1" fill="#000"/>
<rect x="1597" y="481" width="2" height="1" fill="#000"/>
<rect x="1597" y="514" width="2" height="1" fill="#000"/>
<rect x="1597" y="547" width="2" height="1" fill="#000"/>
<rect x="1597" y="580" width="2" height="1" fill="#000"/>
<rect x="1597" y="586" width="2" height="1" fill="#000"/>
<rect x="1597" y="686" width="2" height="1" fill="#000"/>
<line x1="4" y1="616.5" x2="1596" y2="616.5" stroke="#c0c0c0" stroke-dasharray="3,3"/>
<line x1="4" y1="656.5" x2="1596" y2="656.5" stroke="#c0c0c0" stroke-dasharray="3,3"/>
<rect x="1597" y="690" width="2" height="1" fill="#000"/>
<rect x="1597" y="752" width="2" height="1" fill="#000"/>
<rect x="1597" y="789" width="2" height="1" fill="#000"/>
<rect x="4" y="791" width="1" height="3" fill="#000"/>
<rect x="68" y="791" width="1" height="3" fill="#000"/>
<rect x="132" y="791" width="1" height="3" fill="#000"/>
<rect x="196" y="791" width="1" height="3" fill="#000"/>
<rect x="260" y="791" width="1" height="3" fill="#000"/>
<rect x="324" y="791" width="1" height="3" fill="#000"/>
<rect x="388" y="791" width="1" height="3" fill="#000"/>
<rect x="452" y="791" width="1" height="3" fill="#000"/>
<rect x="516" y="791" width="1" height="3" fill="#000"/>
<rect x="580" y="791" width="1" height="3" fill="#000"/>
<rect x="644" y="791" width="1" height="3" fill="#000"/>
<rect x="708" y="791" width="1" height="3" fill="#000"/>
<rect x="772" y="791" width="1" height="3" fill="#000"/>
<rect x="836" y="791" width="1" height="3" fill="#000"/>
<rect x="900" y="791" width="1" height="3" fill="#000"/>
<rect x="964" y="791" width="1" height="3" fill="#000"/>
<rect x="1028" y="791" width="1" height="3" fill="#000"/>
<rect x="1092" y="791" width="1" height="3" fill="#000"/>
<rect x="1156" y="791" width="1" height="3" fill="#000"/>
<rect x="1220" y="791" width="1" height="3" fill="#000"/></g>
<rect x="0" y="811" width="1642" height="1" fill="#e3e3e3"/>
<rect x="0" y="812" width="1642" height="1" fill="#fff"/>
<rect x="0" y="813" width="1642" height="17" fill="#f0f0f0"/>
<rect x="0" y="813" width="1642" height="1" fill="#000"/>
<rect x="0" y="814" width="1642" height="1" fill="#f8f8f8"/>
<rect x="0" y="814" width="1" height="16" fill="#808080"/>
<rect x="5" y="813" width="1" height="17" fill="#000"/>
<rect x="6" y="812" width="102" height="18" fill="#fff"/>
<rect x="108" y="813" width="1" height="17" fill="#000"/>
<rect x="109" y="814" width="1" height="16" fill="#f8f8f8"/>
<path d="M1615.5,819 L1615.5,825 L1612,822 Z" fill="#a0a0a0"/>
<path d="M1631,819 L1631,825 L1634.5,822 Z" fill="#000"/>
<rect x="209" y="816" width="1" height="14" fill="#505050"/>
<rect x="313" y="816" width="1" height="14" fill="#505050"/>
<rect x="418" y="816" width="1" height="14" fill="#505050"/>
<rect x="522" y="816" width="1" height="14" fill="#505050"/>
<rect x="626" y="816" width="1" height="14" fill="#505050"/>
<rect x="718" y="816" width="1" height="14" fill="#505050"/>
<rect x="810" y="816" width="1" height="14" fill="#505050"/>
<rect x="881" y="816" width="1" height="14" fill="#505050"/>
<rect x="961" y="816" width="1" height="14" fill="#505050"/>
<rect x="1041" y="816" width="1" height="14" fill="#505050"/>
<rect x="1121" y="816" width="1" height="14" fill="#505050"/>
<rect x="1198" y="816" width="1" height="14" fill="#505050"/>
<rect x="1269" y="816" width="1" height="14" fill="#505050"/>
<rect x="1353" y="816" width="1" height="14" fill="#505050"/>
<rect x="1433" y="816" width="1" height="14" fill="#505050"/>
<rect x="1533" y="816" width="1" height="14" fill="#505050"/>
<rect x="1605" y="816" width="1" height="14" fill="#505050"/>
</svg>
<div class="t p" style="left:1601.5px;top:46.5px;">1.20155</div><div class="t p" style="left:1601.5px;top:79.5px;">1.19280</div><div class="t p" style="left:1601.5px;top:112.5px;">1.18405</div><div class="t p" style="left:1601.5px;top:145.5px;">1.17530</div><div class="t p" style="left:1601.5px;top:178.5px;">1.16655</div><div class="t p" style="left:1601.5px;top:211.5px;">1.15755</div><div class="t p" style="left:1601.5px;top:244.5px;">1.14880</div><div class="t p" style="left:1601.5px;top:277.5px;">1.14005</div><div class="t p" style="left:1601.5px;top:310.5px;">1.13130</div><div class="t p" style="left:1601.5px;top:343.5px;">1.12255</div><div class="t p" style="left:1601.5px;top:376.5px;">1.11380</div><div class="t p" style="left:1601.5px;top:409.5px;">1.10480</div><div class="t p" style="left:1601.5px;top:442.5px;">1.09605</div><div class="t p" style="left:1601.5px;top:475.5px;">1.08730</div><div class="t p" style="left:1601.5px;top:508.5px;">1.07855</div><div class="t p" style="left:1601.5px;top:541.5px;">1.06980</div><div class="t p" style="left:1601.5px;top:574.5px;">1.06105</div><div style="position:absolute;left:1598px;top:51px;width:41px;height:11px;background:#ff0000"></div><div class="t p w" style="left:1601.5px;top:50.7px;">1.20019</div><div style="position:absolute;left:1598px;top:89px;width:41px;height:11px;background:#ff0000"></div><div class="t p w" style="left:1601.5px;top:88.7px;">1.19008</div><div style="position:absolute;left:1598px;top:126px;width:41px;height:11px;background:#00ff00"></div><div class="t p w" style="left:1601.5px;top:125.7px;">1.18024</div><div style="position:absolute;left:1598px;top:164px;width:41px;height:11px;background:#0000ff"></div><div class="t p w" style="left:1601.5px;top:163.7px;">1.17014</div><div style="position:absolute;left:1598px;top:202px;width:41px;height:11px;background:#0000ff"></div><div class="t p w" style="left:1601.5px;top:201.7px;">1.16003</div><div style="position:absolute;left:1598px;top:110px;width:41px;height:11px;background:#000000"></div><div class="t p w" style="left:1601.5px;top:109.7px;">1.18491</div><div class="t p" style="left:1599.5px;top:586.7px;">100</div><div class="t p" style="left:1599.5px;top:610.7px;">70</div><div class="t p" style="left:1599.5px;top:650.7px;">30</div><div class="t p" style="left:1599.5px;top:674.6px;">0</div><div class="t p" style="left:1599.5px;top:690.8px;">0.014556</div><div class="t p" style="left:1599.5px;top:746.9px;">0.00</div><div class="t p" style="left:1599.5px;top:777.5px;">-0.009001</div><div class="t" style="left:3px;top:794px;">23 Oct 2019</div><div class="t" style="left:67px;top:794px;">11 Nov 2019</div><div class="t" style="left:131px;top:794px;">29 Nov 2019</div><div class="t" style="left:195px;top:794px;">18 Dec 2019</div><div class="t" style="left:259px;top:794px;">6 Jan 2020</div><div class="t" style="left:323px;top:794px;">24 Jan 2020</div><div class="t" style="left:387px;top:794px;">12 Feb 2020</div><div class="t" style="left:451px;top:794px;">2 Mar 2020</div><div class="t" style="left:515px;top:794px;">20 Mar 2020</div><div class="t" style="left:579px;top:794px;">8 Apr 2020</div><div class="t" style="left:643px;top:794px;">27 Apr 2020</div><div class="t" style="left:707px;top:794px;">15 May 2020</div><div class="t" style="left:771px;top:794px;">3 Jun 2020</div><div class="t" style="left:835px;top:794px;">22 Jun 2020</div><div class="t" style="left:899px;top:794px;">10 Jul 2020</div><div class="t" style="left:963px;top:794px;">29 Jul 2020</div><div class="t" style="left:1027px;top:794px;">17 Aug 2020</div><div class="t" style="left:1091px;top:794px;">4 Sep 2020</div><div class="t" style="left:1155px;top:794px;">23 Sep 2020</div><div class="t" style="left:1219px;top:794px;">12 Oct 2020</div><div class="t" style="left:19.5px;top:29.8px;transform:scaleX(0.978)">EURUSD,Daily&nbsp;&nbsp;1.18412 1.18491 1.18386 1.18491</div><div class="t" style="left:8px;top:589px;transform:scaleX(0.98)">RSI(14) 57.8624</div><div class="t" style="left:8px;top:693px;transform:scaleX(0.98)">MACD(12,26,9) 0.002219 0.000661</div><div class="t tt" style="left:43.5px;top:5.9px;">M1</div><div class="t tt" style="left:71.5px;top:5.9px;">M5</div><div class="t tt" style="left:97.5px;top:5.9px;">M15</div><div class="t tt" style="left:125.5px;top:5.9px;">M30</div><div class="t tt" style="left:156.0px;top:5.9px;">H1</div><div class="t tt" style="left:183.0px;top:5.9px;">H4</div><div class="t tt" style="left:213.0px;top:5.9px;">D1</div><div class="t tt" style="left:240.0px;top:5.9px;">W1</div><div class="t tt" style="left:266.5px;top:5.9px;">MN</div><div class="tab" style="left:6px;width:102px;color:#000">EURUSD,Daily</div><div class="tab" style="left:108px;width:102px">USDCHF,Daily</div><div class="tab" style="left:209px;width:105px">AUDUSD,Daily</div><div class="tab" style="left:313px;width:106px">USDCAD,Daily</div><div class="tab" style="left:418px;width:105px">USDCNH,Daily</div><div class="tab" style="left:522px;width:105px">EURUSD,Daily</div><div class="tab" style="left:626px;width:93px">GBPUSD,H4</div><div class="tab" style="left:718px;width:93px">XAUUSD,H1</div><div class="tab" style="left:810px;width:72px">HK50,H1</div><div class="tab" style="left:881px;width:81px">UK100,H1</div><div class="tab" style="left:961px;width:81px">UK100,H1</div><div class="tab" style="left:1041px;width:81px">GER30,H1</div><div class="tab" style="left:1121px;width:78px">FRA40,H1</div><div class="tab" style="left:1198px;width:72px">USOil,H4</div><div class="tab" style="left:1269px;width:85px">USDJPY,H1</div><div class="tab" style="left:1353px;width:81px">DJ30,Daily</div><div class="tab" style="left:1433px;width:101px">CHINA300,H1</div><div class="tab" style="left:1533px;width:73px">USOil,H1</div>
</body></html>
